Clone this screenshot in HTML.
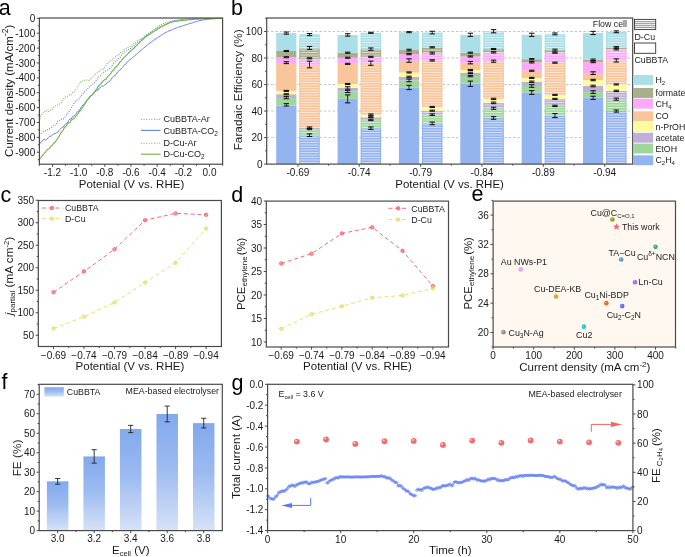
<!DOCTYPE html>
<html><head><meta charset="utf-8"><style>
html,body{margin:0;padding:0;background:#fff;width:685px;height:557px;overflow:hidden}
svg{display:block;will-change:transform}
text{font-family:"Liberation Sans", sans-serif}
</style></head><body>
<svg width="685" height="557" viewBox="0 0 685 557">
<rect x="0" y="0" width="685" height="557" fill="#fff"/>
<text x="-1.20" y="15.30" font-size="21.5" text-anchor="start" fill="#000" >a</text>
<g clip-path="url(#clipa)">
<polyline points="39.40,121.40 41.00,114.96 43.00,112.88 44.35,112.23 45.70,110.37 47.40,110.90 49.10,111.68 50.80,110.00 52.50,109.18 54.15,106.76 55.80,105.71 57.37,105.20 58.93,104.54 60.50,103.25 61.85,102.04 63.20,99.53 64.55,97.86 65.90,96.63 67.25,96.52 68.60,96.00 69.95,94.24 71.30,94.71 72.65,92.46 74.00,92.00 75.47,90.24 76.93,87.93 78.40,85.42 80.05,82.39 81.70,81.75 83.05,80.62 84.40,80.25 85.75,80.49 87.10,80.05 88.45,80.45 89.80,79.84 91.15,78.67 92.50,76.76 93.85,75.79 95.20,74.56 96.55,72.81 97.90,71.82 99.25,71.15 100.60,69.71 101.95,69.13 103.30,68.86 104.63,66.99 105.97,65.41 107.30,63.31 108.65,62.19 110.00,61.65 111.25,59.59 112.50,59.88 113.75,58.44 115.00,56.94 116.25,56.78 117.50,55.25 118.75,54.75 120.00,52.91 121.25,51.77 122.50,50.97 123.75,49.70 125.00,49.31 126.25,48.24 127.50,47.78 128.75,47.26 130.00,46.64 131.25,45.48 132.50,44.36 133.75,43.45 135.00,42.40 136.25,41.67 137.50,40.70 138.75,39.90 140.00,39.11 141.25,38.32 142.50,37.52 143.75,36.72 145.00,35.90 146.25,35.04 147.50,34.16 148.75,33.29 150.00,32.48 151.25,31.76 152.50,31.11 153.75,30.47 155.00,29.80 156.25,29.10 157.50,28.38 158.75,27.67 160.00,26.98 161.25,26.32 162.50,25.68 163.75,25.05 165.00,24.45 166.25,23.83 167.50,23.22 168.75,22.66 170.00,22.22 171.25,21.87 172.50,21.56 173.75,21.27 175.00,21.01 176.25,20.77 177.50,20.55 178.75,20.33 180.00,20.14 181.25,19.95 182.50,19.79 183.75,19.64 185.00,19.51 186.25,19.39 187.50,19.29 188.75,19.19 190.00,19.09 191.25,19.01 192.50,18.94 193.75,18.87 195.00,18.82 196.25,18.77 197.50,18.73 198.75,18.69 200.00,18.65 201.25,18.61 202.50,18.57 203.75,18.54 205.00,18.51 206.25,18.48 207.50,18.46 208.75,18.44 210.00,18.42 211.26,18.41 212.52,18.40 213.78,18.39 215.04,18.38 216.30,18.38 217.56,18.37 218.82,18.37 220.08,18.36 221.34,18.36 222.60,18.35" fill="none" stroke="#7bb854" stroke-width="1.1" stroke-dasharray="1,1.3" stroke-linejoin="round" />
<polyline points="39.40,134.01 40.60,133.58 41.80,133.54 43.00,131.92 44.22,130.98 45.44,130.95 46.66,130.07 47.88,129.82 49.10,129.02 50.67,127.85 52.23,127.23 53.80,125.41 55.15,125.17 56.50,123.93 57.85,121.10 59.20,120.50 60.56,120.17 61.92,118.89 63.28,119.01 64.64,117.46 66.00,115.66 67.33,114.01 68.67,111.85 70.00,110.19 71.25,108.09 72.50,106.47 73.75,103.76 75.00,102.49 76.34,100.64 77.68,99.99 79.02,98.90 80.36,96.76 81.70,95.13 83.06,93.77 84.42,92.20 85.78,90.52 87.14,89.00 88.50,88.22 89.84,86.40 91.18,85.32 92.52,84.53 93.86,83.27 95.20,81.60 96.54,80.29 97.88,78.28 99.22,76.53 100.56,75.95 101.90,73.93 103.26,72.58 104.62,71.38 105.98,71.04 107.34,70.06 108.70,68.89 110.00,68.19 111.25,66.95 112.50,65.02 113.75,63.27 115.00,62.02 116.25,61.21 117.50,59.59 118.75,58.01 120.00,57.48 121.25,55.43 122.50,53.85 123.75,52.73 125.00,51.60 126.25,50.90 127.50,50.45 128.75,49.40 130.00,48.94 131.25,47.72 132.50,46.61 133.75,45.77 135.00,44.71 136.25,43.56 137.50,42.61 138.75,41.66 140.00,40.63 141.25,39.62 142.50,38.62 143.75,37.63 145.00,36.65 146.25,35.69 147.50,34.77 148.75,33.86 150.00,32.93 151.25,31.96 152.50,30.98 153.75,30.01 155.00,29.06 156.25,28.12 157.50,27.18 158.75,26.29 160.00,25.49 161.25,24.79 162.50,24.18 163.75,23.62 165.00,23.11 166.25,22.63 167.50,22.18 168.75,21.80 170.00,21.47 171.25,21.20 172.50,20.94 173.75,20.69 175.00,20.46 176.25,20.25 177.50,20.05 178.75,19.86 180.00,19.69 181.25,19.53 182.50,19.39 183.75,19.26 185.00,19.15 186.25,19.05 187.50,18.96 188.75,18.87 190.00,18.80 191.25,18.73 192.50,18.67 193.75,18.63 195.00,18.59 196.25,18.56 197.50,18.54 198.75,18.52 200.00,18.50 201.26,18.48 202.51,18.47 203.77,18.46 205.02,18.44 206.28,18.43 207.53,18.43 208.79,18.42 210.04,18.41 211.30,18.40 212.56,18.40 213.81,18.39 215.07,18.39 216.32,18.38 217.58,18.38 218.83,18.37 220.09,18.36 221.34,18.36 222.60,18.35" fill="none" stroke="#6484f2" stroke-width="1.1" stroke-dasharray="1,1.3" stroke-linejoin="round" />
<polyline points="39.40,144.52 40.60,142.38 41.80,141.29 43.00,139.91 44.37,139.24 45.73,140.01 47.10,139.05 48.45,137.46 49.80,136.38 51.15,136.17 52.50,135.09 53.84,133.75 55.18,133.57 56.52,132.61 57.86,132.09 59.20,130.26 60.56,128.91 61.92,127.43 63.28,127.14 64.64,124.88 66.00,123.58 67.34,123.01 68.68,120.56 70.02,119.08 71.36,118.86 72.70,116.45 74.13,115.99 75.57,114.62 77.00,112.38 78.22,111.04 79.44,110.31 80.66,108.12 81.88,106.24 83.10,104.86 84.45,103.43 85.80,101.70 87.15,99.63 88.50,99.24 89.84,97.03 91.18,95.81 92.52,95.08 93.86,93.31 95.20,91.65 96.54,90.67 97.88,90.28 99.22,87.90 100.56,87.20 101.90,85.92 103.26,86.22 104.62,85.02 105.98,84.39 107.34,82.28 108.70,81.91 109.96,80.96 111.22,79.27 112.48,77.24 113.74,76.03 115.00,75.53 116.25,74.34 117.50,71.95 118.75,71.06 120.00,69.56 121.25,68.90 122.50,67.56 123.75,65.58 125.00,64.53 126.25,63.55 127.50,61.67 128.75,60.74 130.00,59.52 131.25,58.84 132.50,57.44 133.75,56.74 135.00,55.43 136.25,54.47 137.50,53.40 138.75,52.29 140.00,51.20 141.25,50.11 142.50,49.03 143.75,47.96 145.00,46.91 146.25,45.90 147.50,44.93 148.75,43.98 150.00,43.04 151.25,42.09 152.50,41.15 153.75,40.22 155.00,39.32 156.25,38.47 157.50,37.65 158.75,36.85 160.00,36.05 161.25,35.24 162.50,34.43 163.75,33.65 165.00,32.93 166.25,32.27 167.50,31.65 168.75,31.08 170.00,30.55 171.25,30.03 172.50,29.52 173.75,29.02 175.00,28.53 176.25,28.05 177.50,27.58 178.75,27.12 180.00,26.68 181.25,26.25 182.50,25.84 183.75,25.45 185.00,25.06 186.25,24.68 187.50,24.31 188.75,23.93 190.00,23.56 191.25,23.17 192.50,22.77 193.75,22.36 195.00,21.97 196.25,21.58 197.50,21.22 198.75,20.88 200.00,20.58 201.25,20.32 202.50,20.08 203.75,19.87 205.00,19.68 206.25,19.51 207.50,19.36 208.75,19.22 210.00,19.09 211.26,18.98 212.52,18.88 213.78,18.80 215.04,18.72 216.30,18.66 217.56,18.60 218.82,18.54 220.08,18.48 221.34,18.42 222.60,18.35" fill="none" stroke="#6282f2" stroke-width="1.0"  stroke-linejoin="round" />
<polyline points="39.40,159.21 40.66,158.03 41.92,155.92 43.18,155.01 44.44,153.04 45.70,151.79 47.05,149.88 48.40,149.09 49.75,147.84 51.10,146.12 52.45,144.97 53.80,143.25 55.15,142.02 56.50,140.10 57.84,138.28 59.18,135.99 60.52,133.46 61.86,131.95 63.20,130.02 64.56,127.22 65.92,126.76 67.28,124.31 68.64,122.93 70.00,122.41 71.25,120.18 72.50,119.28 73.75,118.82 75.00,117.52 76.33,115.54 77.67,114.32 79.00,111.73 80.35,110.53 81.70,108.74 83.06,106.76 84.42,104.52 85.78,102.62 87.14,99.96 88.50,98.25 89.84,96.47 91.18,95.53 92.52,94.28 93.86,92.61 95.20,90.70 96.54,89.45 97.88,86.70 99.22,85.47 100.56,83.78 101.90,82.27 103.26,80.81 104.62,79.84 105.98,79.34 107.34,76.89 108.70,75.55 109.96,74.42 111.22,72.74 112.48,70.87 113.74,70.09 115.00,67.53 116.25,66.78 117.50,65.56 118.75,63.88 120.00,61.91 121.25,61.13 122.50,59.19 123.75,57.62 125.00,56.73 126.25,55.50 127.50,54.15 128.75,52.77 130.00,51.51 131.25,50.40 132.50,49.20 133.75,48.24 135.00,47.01 136.25,45.78 137.50,44.49 138.75,43.34 140.00,42.13 141.25,40.94 142.50,39.77 143.75,38.64 145.00,37.54 146.25,36.53 147.50,35.63 148.75,34.80 150.00,33.97 151.25,33.16 152.50,32.39 153.75,31.63 155.00,30.84 156.25,30.02 157.50,29.17 158.75,28.34 160.00,27.57 161.25,26.88 162.50,26.25 163.75,25.65 165.00,25.04 166.25,24.39 167.50,23.73 168.75,23.12 170.00,22.66 171.25,22.33 172.50,22.03 173.75,21.76 175.00,21.52 176.25,21.31 177.50,21.11 178.75,20.92 180.00,20.73 181.25,20.56 182.50,20.40 183.75,20.26 185.00,20.14 186.25,20.02 187.50,19.91 188.75,19.80 190.00,19.69 191.25,19.58 192.50,19.47 193.75,19.37 195.00,19.28 196.25,19.18 197.50,19.10 198.75,19.02 200.00,18.95 201.25,18.88 202.50,18.82 203.75,18.77 205.00,18.72 206.25,18.68 207.50,18.64 208.75,18.61 210.00,18.57 211.26,18.54 212.52,18.51 213.78,18.49 215.04,18.47 216.30,18.45 217.56,18.43 218.82,18.41 220.08,18.39 221.34,18.37 222.60,18.35" fill="none" stroke="#72b044" stroke-width="1.1"  stroke-linejoin="round" />
</g>
<clipPath id="clipa"><rect x="39.4" y="18.0" width="183.2" height="146.2"/></clipPath>
<rect x="39.40" y="18.00" width="183.20" height="146.20" fill="none" stroke="#4a4a4a" stroke-width="1.2"/>
<line x1="39.40" y1="18.35" x2="36.80" y2="18.35" stroke="#4a4a4a" stroke-width="1.0" />
<text x="35.20" y="21.95" font-size="10" text-anchor="end" fill="#1a1a1a" >0</text>
<line x1="39.40" y1="33.23" x2="36.80" y2="33.23" stroke="#4a4a4a" stroke-width="1.0" />
<text x="35.20" y="36.83" font-size="10" text-anchor="end" fill="#1a1a1a" >-100</text>
<line x1="39.40" y1="48.10" x2="36.80" y2="48.10" stroke="#4a4a4a" stroke-width="1.0" />
<text x="35.20" y="51.70" font-size="10" text-anchor="end" fill="#1a1a1a" >-200</text>
<line x1="39.40" y1="62.98" x2="36.80" y2="62.98" stroke="#4a4a4a" stroke-width="1.0" />
<text x="35.20" y="66.58" font-size="10" text-anchor="end" fill="#1a1a1a" >-300</text>
<line x1="39.40" y1="77.85" x2="36.80" y2="77.85" stroke="#4a4a4a" stroke-width="1.0" />
<text x="35.20" y="81.45" font-size="10" text-anchor="end" fill="#1a1a1a" >-400</text>
<line x1="39.40" y1="92.72" x2="36.80" y2="92.72" stroke="#4a4a4a" stroke-width="1.0" />
<text x="35.20" y="96.32" font-size="10" text-anchor="end" fill="#1a1a1a" >-500</text>
<line x1="39.40" y1="107.60" x2="36.80" y2="107.60" stroke="#4a4a4a" stroke-width="1.0" />
<text x="35.20" y="111.20" font-size="10" text-anchor="end" fill="#1a1a1a" >-600</text>
<line x1="39.40" y1="122.47" x2="36.80" y2="122.47" stroke="#4a4a4a" stroke-width="1.0" />
<text x="35.20" y="126.07" font-size="10" text-anchor="end" fill="#1a1a1a" >-700</text>
<line x1="39.40" y1="137.35" x2="36.80" y2="137.35" stroke="#4a4a4a" stroke-width="1.0" />
<text x="35.20" y="140.95" font-size="10" text-anchor="end" fill="#1a1a1a" >-800</text>
<line x1="39.40" y1="152.22" x2="36.80" y2="152.22" stroke="#4a4a4a" stroke-width="1.0" />
<text x="35.20" y="155.82" font-size="10" text-anchor="end" fill="#1a1a1a" >-900</text>
<line x1="39.40" y1="25.79" x2="37.80" y2="25.79" stroke="#4a4a4a" stroke-width="1.0" />
<line x1="39.40" y1="40.66" x2="37.80" y2="40.66" stroke="#4a4a4a" stroke-width="1.0" />
<line x1="39.40" y1="55.54" x2="37.80" y2="55.54" stroke="#4a4a4a" stroke-width="1.0" />
<line x1="39.40" y1="70.41" x2="37.80" y2="70.41" stroke="#4a4a4a" stroke-width="1.0" />
<line x1="39.40" y1="85.29" x2="37.80" y2="85.29" stroke="#4a4a4a" stroke-width="1.0" />
<line x1="39.40" y1="100.16" x2="37.80" y2="100.16" stroke="#4a4a4a" stroke-width="1.0" />
<line x1="39.40" y1="115.04" x2="37.80" y2="115.04" stroke="#4a4a4a" stroke-width="1.0" />
<line x1="39.40" y1="129.91" x2="37.80" y2="129.91" stroke="#4a4a4a" stroke-width="1.0" />
<line x1="39.40" y1="144.79" x2="37.80" y2="144.79" stroke="#4a4a4a" stroke-width="1.0" />
<line x1="39.40" y1="159.66" x2="37.80" y2="159.66" stroke="#4a4a4a" stroke-width="1.0" />
<line x1="52.49" y1="164.20" x2="52.49" y2="166.80" stroke="#4a4a4a" stroke-width="1.0" />
<text x="52.49" y="175.70" font-size="10" text-anchor="middle" fill="#1a1a1a" >-1.2</text>
<line x1="78.66" y1="164.20" x2="78.66" y2="166.80" stroke="#4a4a4a" stroke-width="1.0" />
<text x="78.66" y="175.70" font-size="10" text-anchor="middle" fill="#1a1a1a" >-1.0</text>
<line x1="104.83" y1="164.20" x2="104.83" y2="166.80" stroke="#4a4a4a" stroke-width="1.0" />
<text x="104.83" y="175.70" font-size="10" text-anchor="middle" fill="#1a1a1a" >-0.8</text>
<line x1="131.00" y1="164.20" x2="131.00" y2="166.80" stroke="#4a4a4a" stroke-width="1.0" />
<text x="131.00" y="175.70" font-size="10" text-anchor="middle" fill="#1a1a1a" >-0.6</text>
<line x1="157.17" y1="164.20" x2="157.17" y2="166.80" stroke="#4a4a4a" stroke-width="1.0" />
<text x="157.17" y="175.70" font-size="10" text-anchor="middle" fill="#1a1a1a" >-0.4</text>
<line x1="183.34" y1="164.20" x2="183.34" y2="166.80" stroke="#4a4a4a" stroke-width="1.0" />
<text x="183.34" y="175.70" font-size="10" text-anchor="middle" fill="#1a1a1a" >-0.2</text>
<line x1="209.51" y1="164.20" x2="209.51" y2="166.80" stroke="#4a4a4a" stroke-width="1.0" />
<text x="209.51" y="175.70" font-size="10" text-anchor="middle" fill="#1a1a1a" >0.0</text>
<line x1="39.40" y1="164.20" x2="39.40" y2="165.80" stroke="#4a4a4a" stroke-width="1.0" />
<line x1="65.57" y1="164.20" x2="65.57" y2="165.80" stroke="#4a4a4a" stroke-width="1.0" />
<line x1="91.74" y1="164.20" x2="91.74" y2="165.80" stroke="#4a4a4a" stroke-width="1.0" />
<line x1="117.91" y1="164.20" x2="117.91" y2="165.80" stroke="#4a4a4a" stroke-width="1.0" />
<line x1="144.09" y1="164.20" x2="144.09" y2="165.80" stroke="#4a4a4a" stroke-width="1.0" />
<line x1="170.26" y1="164.20" x2="170.26" y2="165.80" stroke="#4a4a4a" stroke-width="1.0" />
<line x1="196.43" y1="164.20" x2="196.43" y2="165.80" stroke="#4a4a4a" stroke-width="1.0" />
<line x1="222.60" y1="164.20" x2="222.60" y2="165.80" stroke="#4a4a4a" stroke-width="1.0" />
<text x="131.50" y="187.50" font-size="11.5" text-anchor="middle" fill="#1a1a1a" >Potenial (V vs. RHE)</text>
<text x="0" y="0" font-size="11.5" text-anchor="middle" fill="#1a1a1a" transform="translate(13.2,90.8) rotate(-90)">Current density (mA/cm<tspan font-size="8.5" dy="-4.8">-2</tspan><tspan dy="4.8">)</tspan></text>
<polyline points="140.90,119.20 160.60,119.20" fill="none" stroke="#6484f2" stroke-width="1.1" stroke-dasharray="1,1.6" stroke-linejoin="round" />
<text x="163.50" y="122.40" font-size="9.0" text-anchor="start" fill="#1a1a1a" >CuBBTA-Ar</text>
<polyline points="140.90,130.40 160.60,130.40" fill="none" stroke="#6282f2" stroke-width="1.1"  stroke-linejoin="round" />
<text x="163.50" y="133.60" font-size="9.0" text-anchor="start" fill="#1a1a1a" >CuBBTA-CO<tspan font-size="6.5" dy="2">2</tspan></text>
<polyline points="140.90,143.20 160.60,143.20" fill="none" stroke="#7bb854" stroke-width="1.1" stroke-dasharray="1,1.6" stroke-linejoin="round" />
<text x="163.50" y="146.40" font-size="9.0" text-anchor="start" fill="#1a1a1a" >D-Cu-Ar</text>
<polyline points="140.90,154.20 160.60,154.20" fill="none" stroke="#72b044" stroke-width="1.1"  stroke-linejoin="round" />
<text x="163.50" y="157.40" font-size="9.0" text-anchor="start" fill="#1a1a1a" >D-Cu-CO<tspan font-size="6.5" dy="2">2</tspan></text>
<text x="231.00" y="15.30" font-size="21.5" text-anchor="start" fill="#000" >b</text>
<line x1="266.70" y1="137.58" x2="632.70" y2="137.58" stroke="#b4b4b4" stroke-width="0.8" stroke-dasharray="2.4,2"/>
<line x1="266.70" y1="111.06" x2="632.70" y2="111.06" stroke="#b4b4b4" stroke-width="0.8" stroke-dasharray="2.4,2"/>
<line x1="266.70" y1="84.54" x2="632.70" y2="84.54" stroke="#b4b4b4" stroke-width="0.8" stroke-dasharray="2.4,2"/>
<line x1="266.70" y1="58.02" x2="632.70" y2="58.02" stroke="#b4b4b4" stroke-width="0.8" stroke-dasharray="2.4,2"/>
<line x1="266.70" y1="31.50" x2="632.70" y2="31.50" stroke="#b4b4b4" stroke-width="0.8" stroke-dasharray="2.4,2"/>
<rect x="276.20" y="105.49" width="20.20" height="58.61" fill="#94b4ef" />
<rect x="276.20" y="98.07" width="20.20" height="7.43" fill="#9fd69c" />
<rect x="276.20" y="94.22" width="20.20" height="3.85" fill="#c0afd7" />
<rect x="276.20" y="90.90" width="20.20" height="3.32" fill="#fdfba0" />
<rect x="276.20" y="63.06" width="20.20" height="27.85" fill="#f9c59b" />
<rect x="276.20" y="57.22" width="20.20" height="5.83" fill="#fca9f8" />
<rect x="276.20" y="50.99" width="20.20" height="6.23" fill="#aaae8b" />
<rect x="276.20" y="32.96" width="20.20" height="18.03" fill="#abdfe7" />
<g stroke="#111" stroke-width="0.9"><line x1="286.30" y1="103.63" x2="286.30" y2="106.02"/><line x1="283.60" y1="103.63" x2="289.00" y2="103.63" stroke-width="1.05"/><line x1="283.60" y1="106.02" x2="289.00" y2="106.02" stroke-width="1.05"/></g>
<g stroke="#111" stroke-width="0.9"><line x1="286.30" y1="96.61" x2="286.30" y2="98.73"/><line x1="283.60" y1="96.61" x2="289.00" y2="96.61" stroke-width="1.05"/><line x1="283.60" y1="98.73" x2="289.00" y2="98.73" stroke-width="1.05"/></g>
<g stroke="#111" stroke-width="0.9"><line x1="286.30" y1="93.69" x2="286.30" y2="94.75"/><line x1="283.60" y1="93.69" x2="289.00" y2="93.69" stroke-width="1.05"/><line x1="283.60" y1="94.75" x2="289.00" y2="94.75" stroke-width="1.05"/></g>
<g stroke="#111" stroke-width="0.9"><line x1="286.30" y1="90.37" x2="286.30" y2="91.44"/><line x1="283.60" y1="90.37" x2="289.00" y2="90.37" stroke-width="1.05"/><line x1="283.60" y1="91.44" x2="289.00" y2="91.44" stroke-width="1.05"/></g>
<g stroke="#111" stroke-width="0.9"><line x1="286.30" y1="61.73" x2="286.30" y2="63.59"/><line x1="283.60" y1="61.73" x2="289.00" y2="61.73" stroke-width="1.05"/><line x1="283.60" y1="63.59" x2="289.00" y2="63.59" stroke-width="1.05"/></g>
<g stroke="#111" stroke-width="0.9"><line x1="286.30" y1="56.69" x2="286.30" y2="57.75"/><line x1="283.60" y1="56.69" x2="289.00" y2="56.69" stroke-width="1.05"/><line x1="283.60" y1="57.75" x2="289.00" y2="57.75" stroke-width="1.05"/></g>
<g stroke="#111" stroke-width="0.9"><line x1="286.30" y1="50.46" x2="286.30" y2="51.52"/><line x1="283.60" y1="50.46" x2="289.00" y2="50.46" stroke-width="1.05"/><line x1="283.60" y1="51.52" x2="289.00" y2="51.52" stroke-width="1.05"/></g>
<g stroke="#111" stroke-width="0.9"><line x1="286.30" y1="32.03" x2="286.30" y2="34.15"/><line x1="283.60" y1="32.03" x2="289.00" y2="32.03" stroke-width="1.05"/><line x1="283.60" y1="34.15" x2="289.00" y2="34.15" stroke-width="1.05"/></g>
<rect x="299.20" y="136.12" width="20.60" height="27.98" fill="#94b4ef" />
<rect x="299.20" y="129.09" width="20.60" height="7.03" fill="#9fd69c" />
<rect x="299.20" y="127.63" width="20.60" height="1.46" fill="#c0afd7" />
<rect x="299.20" y="127.37" width="20.60" height="0.27" fill="#fdfba0" />
<rect x="299.20" y="64.92" width="20.60" height="62.45" fill="#f9c59b" />
<rect x="299.20" y="58.82" width="20.60" height="6.10" fill="#fca9f8" />
<rect x="299.20" y="48.34" width="20.60" height="10.48" fill="#aaae8b" />
<rect x="299.20" y="34.28" width="20.60" height="14.06" fill="#abdfe7" />
<g stroke="#ffffff" stroke-width="0.9" stroke-opacity="0.6">
<line x1="300.40" y1="162.50" x2="318.60" y2="162.50"/>
<line x1="300.40" y1="160.00" x2="318.60" y2="160.00"/>
<line x1="300.40" y1="157.50" x2="318.60" y2="157.50"/>
<line x1="300.40" y1="155.00" x2="318.60" y2="155.00"/>
<line x1="300.40" y1="152.50" x2="318.60" y2="152.50"/>
<line x1="300.40" y1="150.00" x2="318.60" y2="150.00"/>
<line x1="300.40" y1="147.50" x2="318.60" y2="147.50"/>
<line x1="300.40" y1="145.00" x2="318.60" y2="145.00"/>
<line x1="300.40" y1="142.50" x2="318.60" y2="142.50"/>
<line x1="300.40" y1="140.00" x2="318.60" y2="140.00"/>
<line x1="300.40" y1="137.50" x2="318.60" y2="137.50"/>
<line x1="300.40" y1="135.00" x2="318.60" y2="135.00"/>
<line x1="300.40" y1="132.50" x2="318.60" y2="132.50"/>
<line x1="300.40" y1="130.00" x2="318.60" y2="130.00"/>
<line x1="300.40" y1="127.50" x2="318.60" y2="127.50"/>
<line x1="300.40" y1="125.00" x2="318.60" y2="125.00"/>
<line x1="300.40" y1="122.50" x2="318.60" y2="122.50"/>
<line x1="300.40" y1="120.00" x2="318.60" y2="120.00"/>
<line x1="300.40" y1="117.50" x2="318.60" y2="117.50"/>
<line x1="300.40" y1="115.00" x2="318.60" y2="115.00"/>
<line x1="300.40" y1="112.50" x2="318.60" y2="112.50"/>
<line x1="300.40" y1="110.00" x2="318.60" y2="110.00"/>
<line x1="300.40" y1="107.50" x2="318.60" y2="107.50"/>
<line x1="300.40" y1="105.00" x2="318.60" y2="105.00"/>
<line x1="300.40" y1="102.50" x2="318.60" y2="102.50"/>
<line x1="300.40" y1="100.00" x2="318.60" y2="100.00"/>
<line x1="300.40" y1="97.50" x2="318.60" y2="97.50"/>
<line x1="300.40" y1="95.00" x2="318.60" y2="95.00"/>
<line x1="300.40" y1="92.50" x2="318.60" y2="92.50"/>
<line x1="300.40" y1="90.00" x2="318.60" y2="90.00"/>
<line x1="300.40" y1="87.50" x2="318.60" y2="87.50"/>
<line x1="300.40" y1="85.00" x2="318.60" y2="85.00"/>
<line x1="300.40" y1="82.50" x2="318.60" y2="82.50"/>
<line x1="300.40" y1="80.00" x2="318.60" y2="80.00"/>
<line x1="300.40" y1="77.50" x2="318.60" y2="77.50"/>
<line x1="300.40" y1="75.00" x2="318.60" y2="75.00"/>
<line x1="300.40" y1="72.50" x2="318.60" y2="72.50"/>
<line x1="300.40" y1="70.00" x2="318.60" y2="70.00"/>
<line x1="300.40" y1="67.50" x2="318.60" y2="67.50"/>
<line x1="300.40" y1="65.00" x2="318.60" y2="65.00"/>
<line x1="300.40" y1="62.50" x2="318.60" y2="62.50"/>
<line x1="300.40" y1="60.00" x2="318.60" y2="60.00"/>
<line x1="300.40" y1="57.50" x2="318.60" y2="57.50"/>
<line x1="300.40" y1="55.00" x2="318.60" y2="55.00"/>
<line x1="300.40" y1="52.50" x2="318.60" y2="52.50"/>
<line x1="300.40" y1="50.00" x2="318.60" y2="50.00"/>
<line x1="300.40" y1="47.50" x2="318.60" y2="47.50"/>
<line x1="300.40" y1="45.00" x2="318.60" y2="45.00"/>
<line x1="300.40" y1="42.50" x2="318.60" y2="42.50"/>
<line x1="300.40" y1="40.00" x2="318.60" y2="40.00"/>
<line x1="300.40" y1="37.50" x2="318.60" y2="37.50"/>
</g>
<g stroke="#111" stroke-width="0.9"><line x1="309.50" y1="133.87" x2="309.50" y2="136.52"/><line x1="306.80" y1="133.87" x2="312.20" y2="133.87" stroke-width="1.05"/><line x1="306.80" y1="136.52" x2="312.20" y2="136.52" stroke-width="1.05"/></g>
<g stroke="#111" stroke-width="0.9"><line x1="309.50" y1="128.56" x2="309.50" y2="129.62"/><line x1="306.80" y1="128.56" x2="312.20" y2="128.56" stroke-width="1.05"/><line x1="306.80" y1="129.62" x2="312.20" y2="129.62" stroke-width="1.05"/></g>
<g stroke="#111" stroke-width="0.9"><line x1="309.50" y1="126.97" x2="309.50" y2="128.30"/><line x1="306.80" y1="126.97" x2="312.20" y2="126.97" stroke-width="1.05"/><line x1="306.80" y1="128.30" x2="312.20" y2="128.30" stroke-width="1.05"/></g>
<g stroke="#111" stroke-width="0.9"><line x1="309.50" y1="61.20" x2="309.50" y2="67.83"/><line x1="306.80" y1="61.20" x2="312.20" y2="61.20" stroke-width="1.05"/><line x1="306.80" y1="67.83" x2="312.20" y2="67.83" stroke-width="1.05"/></g>
<g stroke="#111" stroke-width="0.9"><line x1="309.50" y1="57.75" x2="309.50" y2="58.82"/><line x1="306.80" y1="57.75" x2="312.20" y2="57.75" stroke-width="1.05"/><line x1="306.80" y1="58.82" x2="312.20" y2="58.82" stroke-width="1.05"/></g>
<g stroke="#111" stroke-width="0.9"><line x1="309.50" y1="46.48" x2="309.50" y2="49.40"/><line x1="306.80" y1="46.48" x2="312.20" y2="46.48" stroke-width="1.05"/><line x1="306.80" y1="49.40" x2="312.20" y2="49.40" stroke-width="1.05"/></g>
<g stroke="#111" stroke-width="0.9"><line x1="309.50" y1="33.49" x2="309.50" y2="35.61"/><line x1="306.80" y1="33.49" x2="312.20" y2="33.49" stroke-width="1.05"/><line x1="306.80" y1="35.61" x2="312.20" y2="35.61" stroke-width="1.05"/></g>
<rect x="337.56" y="98.86" width="20.20" height="65.24" fill="#94b4ef" />
<rect x="337.56" y="91.44" width="20.20" height="7.43" fill="#9fd69c" />
<rect x="337.56" y="87.99" width="20.20" height="3.45" fill="#c0afd7" />
<rect x="337.56" y="84.01" width="20.20" height="3.98" fill="#fdfba0" />
<rect x="337.56" y="63.85" width="20.20" height="20.16" fill="#f9c59b" />
<rect x="337.56" y="57.75" width="20.20" height="6.10" fill="#fca9f8" />
<rect x="337.56" y="52.72" width="20.20" height="5.04" fill="#aaae8b" />
<rect x="337.56" y="34.95" width="20.20" height="17.77" fill="#abdfe7" />
<g stroke="#111" stroke-width="0.9"><line x1="347.66" y1="94.88" x2="347.66" y2="102.84"/><line x1="344.96" y1="94.88" x2="350.36" y2="94.88" stroke-width="1.05"/><line x1="344.96" y1="102.84" x2="350.36" y2="102.84" stroke-width="1.05"/></g>
<g stroke="#111" stroke-width="0.9"><line x1="347.66" y1="90.37" x2="347.66" y2="92.50"/><line x1="344.96" y1="90.37" x2="350.36" y2="90.37" stroke-width="1.05"/><line x1="344.96" y1="92.50" x2="350.36" y2="92.50" stroke-width="1.05"/></g>
<g stroke="#111" stroke-width="0.9"><line x1="347.66" y1="86.79" x2="347.66" y2="89.18"/><line x1="344.96" y1="86.79" x2="350.36" y2="86.79" stroke-width="1.05"/><line x1="344.96" y1="89.18" x2="350.36" y2="89.18" stroke-width="1.05"/></g>
<g stroke="#111" stroke-width="0.9"><line x1="347.66" y1="83.48" x2="347.66" y2="84.54"/><line x1="344.96" y1="83.48" x2="350.36" y2="83.48" stroke-width="1.05"/><line x1="344.96" y1="84.54" x2="350.36" y2="84.54" stroke-width="1.05"/></g>
<g stroke="#111" stroke-width="0.9"><line x1="347.66" y1="63.32" x2="347.66" y2="64.38"/><line x1="344.96" y1="63.32" x2="350.36" y2="63.32" stroke-width="1.05"/><line x1="344.96" y1="64.38" x2="350.36" y2="64.38" stroke-width="1.05"/></g>
<g stroke="#111" stroke-width="0.9"><line x1="347.66" y1="57.22" x2="347.66" y2="58.29"/><line x1="344.96" y1="57.22" x2="350.36" y2="57.22" stroke-width="1.05"/><line x1="344.96" y1="58.29" x2="350.36" y2="58.29" stroke-width="1.05"/></g>
<g stroke="#111" stroke-width="0.9"><line x1="347.66" y1="52.19" x2="347.66" y2="53.25"/><line x1="344.96" y1="52.19" x2="350.36" y2="52.19" stroke-width="1.05"/><line x1="344.96" y1="53.25" x2="350.36" y2="53.25" stroke-width="1.05"/></g>
<g stroke="#111" stroke-width="0.9"><line x1="347.66" y1="33.75" x2="347.66" y2="36.14"/><line x1="344.96" y1="33.75" x2="350.36" y2="33.75" stroke-width="1.05"/><line x1="344.96" y1="36.14" x2="350.36" y2="36.14" stroke-width="1.05"/></g>
<rect x="360.56" y="128.17" width="20.60" height="35.93" fill="#94b4ef" />
<rect x="360.56" y="119.94" width="20.60" height="8.22" fill="#9fd69c" />
<rect x="360.56" y="116.89" width="20.60" height="3.05" fill="#c0afd7" />
<rect x="360.56" y="114.64" width="20.60" height="2.25" fill="#fdfba0" />
<rect x="360.56" y="63.19" width="20.60" height="51.45" fill="#f9c59b" />
<rect x="360.56" y="56.83" width="20.60" height="6.36" fill="#fca9f8" />
<rect x="360.56" y="49.14" width="20.60" height="7.69" fill="#aaae8b" />
<rect x="360.56" y="32.83" width="20.60" height="16.31" fill="#abdfe7" />
<g stroke="#ffffff" stroke-width="0.9" stroke-opacity="0.6">
<line x1="361.76" y1="162.50" x2="379.96" y2="162.50"/>
<line x1="361.76" y1="160.00" x2="379.96" y2="160.00"/>
<line x1="361.76" y1="157.50" x2="379.96" y2="157.50"/>
<line x1="361.76" y1="155.00" x2="379.96" y2="155.00"/>
<line x1="361.76" y1="152.50" x2="379.96" y2="152.50"/>
<line x1="361.76" y1="150.00" x2="379.96" y2="150.00"/>
<line x1="361.76" y1="147.50" x2="379.96" y2="147.50"/>
<line x1="361.76" y1="145.00" x2="379.96" y2="145.00"/>
<line x1="361.76" y1="142.50" x2="379.96" y2="142.50"/>
<line x1="361.76" y1="140.00" x2="379.96" y2="140.00"/>
<line x1="361.76" y1="137.50" x2="379.96" y2="137.50"/>
<line x1="361.76" y1="135.00" x2="379.96" y2="135.00"/>
<line x1="361.76" y1="132.50" x2="379.96" y2="132.50"/>
<line x1="361.76" y1="130.00" x2="379.96" y2="130.00"/>
<line x1="361.76" y1="127.50" x2="379.96" y2="127.50"/>
<line x1="361.76" y1="125.00" x2="379.96" y2="125.00"/>
<line x1="361.76" y1="122.50" x2="379.96" y2="122.50"/>
<line x1="361.76" y1="120.00" x2="379.96" y2="120.00"/>
<line x1="361.76" y1="117.50" x2="379.96" y2="117.50"/>
<line x1="361.76" y1="115.00" x2="379.96" y2="115.00"/>
<line x1="361.76" y1="112.50" x2="379.96" y2="112.50"/>
<line x1="361.76" y1="110.00" x2="379.96" y2="110.00"/>
<line x1="361.76" y1="107.50" x2="379.96" y2="107.50"/>
<line x1="361.76" y1="105.00" x2="379.96" y2="105.00"/>
<line x1="361.76" y1="102.50" x2="379.96" y2="102.50"/>
<line x1="361.76" y1="100.00" x2="379.96" y2="100.00"/>
<line x1="361.76" y1="97.50" x2="379.96" y2="97.50"/>
<line x1="361.76" y1="95.00" x2="379.96" y2="95.00"/>
<line x1="361.76" y1="92.50" x2="379.96" y2="92.50"/>
<line x1="361.76" y1="90.00" x2="379.96" y2="90.00"/>
<line x1="361.76" y1="87.50" x2="379.96" y2="87.50"/>
<line x1="361.76" y1="85.00" x2="379.96" y2="85.00"/>
<line x1="361.76" y1="82.50" x2="379.96" y2="82.50"/>
<line x1="361.76" y1="80.00" x2="379.96" y2="80.00"/>
<line x1="361.76" y1="77.50" x2="379.96" y2="77.50"/>
<line x1="361.76" y1="75.00" x2="379.96" y2="75.00"/>
<line x1="361.76" y1="72.50" x2="379.96" y2="72.50"/>
<line x1="361.76" y1="70.00" x2="379.96" y2="70.00"/>
<line x1="361.76" y1="67.50" x2="379.96" y2="67.50"/>
<line x1="361.76" y1="65.00" x2="379.96" y2="65.00"/>
<line x1="361.76" y1="62.50" x2="379.96" y2="62.50"/>
<line x1="361.76" y1="60.00" x2="379.96" y2="60.00"/>
<line x1="361.76" y1="57.50" x2="379.96" y2="57.50"/>
<line x1="361.76" y1="55.00" x2="379.96" y2="55.00"/>
<line x1="361.76" y1="52.50" x2="379.96" y2="52.50"/>
<line x1="361.76" y1="50.00" x2="379.96" y2="50.00"/>
<line x1="361.76" y1="47.50" x2="379.96" y2="47.50"/>
<line x1="361.76" y1="45.00" x2="379.96" y2="45.00"/>
<line x1="361.76" y1="42.50" x2="379.96" y2="42.50"/>
<line x1="361.76" y1="40.00" x2="379.96" y2="40.00"/>
<line x1="361.76" y1="37.50" x2="379.96" y2="37.50"/>
<line x1="361.76" y1="35.00" x2="379.96" y2="35.00"/>
</g>
<g stroke="#111" stroke-width="0.9"><line x1="370.86" y1="126.97" x2="370.86" y2="129.36"/><line x1="368.16" y1="126.97" x2="373.56" y2="126.97" stroke-width="1.05"/><line x1="368.16" y1="129.36" x2="373.56" y2="129.36" stroke-width="1.05"/></g>
<g stroke="#111" stroke-width="0.9"><line x1="370.86" y1="119.28" x2="370.86" y2="120.61"/><line x1="368.16" y1="119.28" x2="373.56" y2="119.28" stroke-width="1.05"/><line x1="368.16" y1="120.61" x2="373.56" y2="120.61" stroke-width="1.05"/></g>
<g stroke="#111" stroke-width="0.9"><line x1="370.86" y1="116.23" x2="370.86" y2="117.56"/><line x1="368.16" y1="116.23" x2="373.56" y2="116.23" stroke-width="1.05"/><line x1="368.16" y1="117.56" x2="373.56" y2="117.56" stroke-width="1.05"/></g>
<g stroke="#111" stroke-width="0.9"><line x1="370.86" y1="113.98" x2="370.86" y2="115.30"/><line x1="368.16" y1="113.98" x2="373.56" y2="113.98" stroke-width="1.05"/><line x1="368.16" y1="115.30" x2="373.56" y2="115.30" stroke-width="1.05"/></g>
<g stroke="#111" stroke-width="0.9"><line x1="370.86" y1="61.07" x2="370.86" y2="65.31"/><line x1="368.16" y1="61.07" x2="373.56" y2="61.07" stroke-width="1.05"/><line x1="368.16" y1="65.31" x2="373.56" y2="65.31" stroke-width="1.05"/></g>
<g stroke="#111" stroke-width="0.9"><line x1="370.86" y1="56.30" x2="370.86" y2="57.36"/><line x1="368.16" y1="56.30" x2="373.56" y2="56.30" stroke-width="1.05"/><line x1="368.16" y1="57.36" x2="373.56" y2="57.36" stroke-width="1.05"/></g>
<g stroke="#111" stroke-width="0.9"><line x1="370.86" y1="47.94" x2="370.86" y2="50.33"/><line x1="368.16" y1="47.94" x2="373.56" y2="47.94" stroke-width="1.05"/><line x1="368.16" y1="50.33" x2="373.56" y2="50.33" stroke-width="1.05"/></g>
<g stroke="#111" stroke-width="0.9"><line x1="370.86" y1="32.30" x2="370.86" y2="33.36"/><line x1="368.16" y1="32.30" x2="373.56" y2="32.30" stroke-width="1.05"/><line x1="368.16" y1="33.36" x2="373.56" y2="33.36" stroke-width="1.05"/></g>
<rect x="398.92" y="87.46" width="20.20" height="76.64" fill="#94b4ef" />
<rect x="398.92" y="80.43" width="20.20" height="7.03" fill="#9fd69c" />
<rect x="398.92" y="76.98" width="20.20" height="3.45" fill="#c0afd7" />
<rect x="398.92" y="72.47" width="20.20" height="4.51" fill="#fdfba0" />
<rect x="398.92" y="60.80" width="20.20" height="11.67" fill="#f9c59b" />
<rect x="398.92" y="54.04" width="20.20" height="6.76" fill="#fca9f8" />
<rect x="398.92" y="50.06" width="20.20" height="3.98" fill="#aaae8b" />
<rect x="398.92" y="32.16" width="20.20" height="17.90" fill="#abdfe7" />
<g stroke="#111" stroke-width="0.9"><line x1="409.02" y1="85.34" x2="409.02" y2="89.58"/><line x1="406.32" y1="85.34" x2="411.72" y2="85.34" stroke-width="1.05"/><line x1="406.32" y1="89.58" x2="411.72" y2="89.58" stroke-width="1.05"/></g>
<g stroke="#111" stroke-width="0.9"><line x1="409.02" y1="79.10" x2="409.02" y2="81.76"/><line x1="406.32" y1="79.10" x2="411.72" y2="79.10" stroke-width="1.05"/><line x1="406.32" y1="81.76" x2="411.72" y2="81.76" stroke-width="1.05"/></g>
<g stroke="#111" stroke-width="0.9"><line x1="409.02" y1="76.19" x2="409.02" y2="77.78"/><line x1="406.32" y1="76.19" x2="411.72" y2="76.19" stroke-width="1.05"/><line x1="406.32" y1="77.78" x2="411.72" y2="77.78" stroke-width="1.05"/></g>
<g stroke="#111" stroke-width="0.9"><line x1="409.02" y1="71.94" x2="409.02" y2="73.00"/><line x1="406.32" y1="71.94" x2="411.72" y2="71.94" stroke-width="1.05"/><line x1="406.32" y1="73.00" x2="411.72" y2="73.00" stroke-width="1.05"/></g>
<g stroke="#111" stroke-width="0.9"><line x1="409.02" y1="58.82" x2="409.02" y2="62.26"/><line x1="406.32" y1="58.82" x2="411.72" y2="58.82" stroke-width="1.05"/><line x1="406.32" y1="62.26" x2="411.72" y2="62.26" stroke-width="1.05"/></g>
<g stroke="#111" stroke-width="0.9"><line x1="409.02" y1="53.38" x2="409.02" y2="54.70"/><line x1="406.32" y1="53.38" x2="411.72" y2="53.38" stroke-width="1.05"/><line x1="406.32" y1="54.70" x2="411.72" y2="54.70" stroke-width="1.05"/></g>
<g stroke="#111" stroke-width="0.9"><line x1="409.02" y1="49.27" x2="409.02" y2="50.86"/><line x1="406.32" y1="49.27" x2="411.72" y2="49.27" stroke-width="1.05"/><line x1="406.32" y1="50.86" x2="411.72" y2="50.86" stroke-width="1.05"/></g>
<g stroke="#111" stroke-width="0.9"><line x1="409.02" y1="31.63" x2="409.02" y2="32.69"/><line x1="406.32" y1="31.63" x2="411.72" y2="31.63" stroke-width="1.05"/><line x1="406.32" y1="32.69" x2="411.72" y2="32.69" stroke-width="1.05"/></g>
<rect x="421.92" y="123.39" width="20.60" height="40.71" fill="#94b4ef" />
<rect x="421.92" y="114.64" width="20.60" height="8.75" fill="#9fd69c" />
<rect x="421.92" y="110.66" width="20.60" height="3.98" fill="#c0afd7" />
<rect x="421.92" y="106.95" width="20.60" height="3.71" fill="#fdfba0" />
<rect x="421.92" y="60.41" width="20.60" height="46.54" fill="#f9c59b" />
<rect x="421.92" y="53.11" width="20.60" height="7.29" fill="#fca9f8" />
<rect x="421.92" y="47.28" width="20.60" height="5.83" fill="#aaae8b" />
<rect x="421.92" y="32.56" width="20.60" height="14.72" fill="#abdfe7" />
<g stroke="#ffffff" stroke-width="0.9" stroke-opacity="0.6">
<line x1="423.12" y1="162.50" x2="441.32" y2="162.50"/>
<line x1="423.12" y1="160.00" x2="441.32" y2="160.00"/>
<line x1="423.12" y1="157.50" x2="441.32" y2="157.50"/>
<line x1="423.12" y1="155.00" x2="441.32" y2="155.00"/>
<line x1="423.12" y1="152.50" x2="441.32" y2="152.50"/>
<line x1="423.12" y1="150.00" x2="441.32" y2="150.00"/>
<line x1="423.12" y1="147.50" x2="441.32" y2="147.50"/>
<line x1="423.12" y1="145.00" x2="441.32" y2="145.00"/>
<line x1="423.12" y1="142.50" x2="441.32" y2="142.50"/>
<line x1="423.12" y1="140.00" x2="441.32" y2="140.00"/>
<line x1="423.12" y1="137.50" x2="441.32" y2="137.50"/>
<line x1="423.12" y1="135.00" x2="441.32" y2="135.00"/>
<line x1="423.12" y1="132.50" x2="441.32" y2="132.50"/>
<line x1="423.12" y1="130.00" x2="441.32" y2="130.00"/>
<line x1="423.12" y1="127.50" x2="441.32" y2="127.50"/>
<line x1="423.12" y1="125.00" x2="441.32" y2="125.00"/>
<line x1="423.12" y1="122.50" x2="441.32" y2="122.50"/>
<line x1="423.12" y1="120.00" x2="441.32" y2="120.00"/>
<line x1="423.12" y1="117.50" x2="441.32" y2="117.50"/>
<line x1="423.12" y1="115.00" x2="441.32" y2="115.00"/>
<line x1="423.12" y1="112.50" x2="441.32" y2="112.50"/>
<line x1="423.12" y1="110.00" x2="441.32" y2="110.00"/>
<line x1="423.12" y1="107.50" x2="441.32" y2="107.50"/>
<line x1="423.12" y1="105.00" x2="441.32" y2="105.00"/>
<line x1="423.12" y1="102.50" x2="441.32" y2="102.50"/>
<line x1="423.12" y1="100.00" x2="441.32" y2="100.00"/>
<line x1="423.12" y1="97.50" x2="441.32" y2="97.50"/>
<line x1="423.12" y1="95.00" x2="441.32" y2="95.00"/>
<line x1="423.12" y1="92.50" x2="441.32" y2="92.50"/>
<line x1="423.12" y1="90.00" x2="441.32" y2="90.00"/>
<line x1="423.12" y1="87.50" x2="441.32" y2="87.50"/>
<line x1="423.12" y1="85.00" x2="441.32" y2="85.00"/>
<line x1="423.12" y1="82.50" x2="441.32" y2="82.50"/>
<line x1="423.12" y1="80.00" x2="441.32" y2="80.00"/>
<line x1="423.12" y1="77.50" x2="441.32" y2="77.50"/>
<line x1="423.12" y1="75.00" x2="441.32" y2="75.00"/>
<line x1="423.12" y1="72.50" x2="441.32" y2="72.50"/>
<line x1="423.12" y1="70.00" x2="441.32" y2="70.00"/>
<line x1="423.12" y1="67.50" x2="441.32" y2="67.50"/>
<line x1="423.12" y1="65.00" x2="441.32" y2="65.00"/>
<line x1="423.12" y1="62.50" x2="441.32" y2="62.50"/>
<line x1="423.12" y1="60.00" x2="441.32" y2="60.00"/>
<line x1="423.12" y1="57.50" x2="441.32" y2="57.50"/>
<line x1="423.12" y1="55.00" x2="441.32" y2="55.00"/>
<line x1="423.12" y1="52.50" x2="441.32" y2="52.50"/>
<line x1="423.12" y1="50.00" x2="441.32" y2="50.00"/>
<line x1="423.12" y1="47.50" x2="441.32" y2="47.50"/>
<line x1="423.12" y1="45.00" x2="441.32" y2="45.00"/>
<line x1="423.12" y1="42.50" x2="441.32" y2="42.50"/>
<line x1="423.12" y1="40.00" x2="441.32" y2="40.00"/>
<line x1="423.12" y1="37.50" x2="441.32" y2="37.50"/>
<line x1="423.12" y1="35.00" x2="441.32" y2="35.00"/>
</g>
<g stroke="#111" stroke-width="0.9"><line x1="432.22" y1="122.07" x2="432.22" y2="124.72"/><line x1="429.52" y1="122.07" x2="434.92" y2="122.07" stroke-width="1.05"/><line x1="429.52" y1="124.72" x2="434.92" y2="124.72" stroke-width="1.05"/></g>
<g stroke="#111" stroke-width="0.9"><line x1="432.22" y1="113.84" x2="432.22" y2="115.44"/><line x1="429.52" y1="113.84" x2="434.92" y2="113.84" stroke-width="1.05"/><line x1="429.52" y1="115.44" x2="434.92" y2="115.44" stroke-width="1.05"/></g>
<g stroke="#111" stroke-width="0.9"><line x1="432.22" y1="110.13" x2="432.22" y2="111.19"/><line x1="429.52" y1="110.13" x2="434.92" y2="110.13" stroke-width="1.05"/><line x1="429.52" y1="111.19" x2="434.92" y2="111.19" stroke-width="1.05"/></g>
<g stroke="#111" stroke-width="0.9"><line x1="432.22" y1="106.42" x2="432.22" y2="107.48"/><line x1="429.52" y1="106.42" x2="434.92" y2="106.42" stroke-width="1.05"/><line x1="429.52" y1="107.48" x2="434.92" y2="107.48" stroke-width="1.05"/></g>
<g stroke="#111" stroke-width="0.9"><line x1="432.22" y1="59.74" x2="432.22" y2="61.07"/><line x1="429.52" y1="59.74" x2="434.92" y2="59.74" stroke-width="1.05"/><line x1="429.52" y1="61.07" x2="434.92" y2="61.07" stroke-width="1.05"/></g>
<g stroke="#111" stroke-width="0.9"><line x1="432.22" y1="52.19" x2="432.22" y2="54.04"/><line x1="429.52" y1="52.19" x2="434.92" y2="52.19" stroke-width="1.05"/><line x1="429.52" y1="54.04" x2="434.92" y2="54.04" stroke-width="1.05"/></g>
<g stroke="#111" stroke-width="0.9"><line x1="432.22" y1="46.75" x2="432.22" y2="47.81"/><line x1="429.52" y1="46.75" x2="434.92" y2="46.75" stroke-width="1.05"/><line x1="429.52" y1="47.81" x2="434.92" y2="47.81" stroke-width="1.05"/></g>
<g stroke="#111" stroke-width="0.9"><line x1="432.22" y1="31.23" x2="432.22" y2="33.89"/><line x1="429.52" y1="31.23" x2="434.92" y2="31.23" stroke-width="1.05"/><line x1="429.52" y1="33.89" x2="434.92" y2="33.89" stroke-width="1.05"/></g>
<rect x="460.28" y="83.74" width="20.20" height="80.36" fill="#94b4ef" />
<rect x="460.28" y="76.05" width="20.20" height="7.69" fill="#9fd69c" />
<rect x="460.28" y="72.87" width="20.20" height="3.18" fill="#c0afd7" />
<rect x="460.28" y="69.95" width="20.20" height="2.92" fill="#fdfba0" />
<rect x="460.28" y="62.66" width="20.20" height="7.29" fill="#f9c59b" />
<rect x="460.28" y="56.43" width="20.20" height="6.23" fill="#fca9f8" />
<rect x="460.28" y="52.72" width="20.20" height="3.71" fill="#aaae8b" />
<rect x="460.28" y="34.81" width="20.20" height="17.90" fill="#abdfe7" />
<g stroke="#111" stroke-width="0.9"><line x1="470.38" y1="81.09" x2="470.38" y2="86.40"/><line x1="467.68" y1="81.09" x2="473.08" y2="81.09" stroke-width="1.05"/><line x1="467.68" y1="86.40" x2="473.08" y2="86.40" stroke-width="1.05"/></g>
<g stroke="#111" stroke-width="0.9"><line x1="470.38" y1="75.39" x2="470.38" y2="76.72"/><line x1="467.68" y1="75.39" x2="473.08" y2="75.39" stroke-width="1.05"/><line x1="467.68" y1="76.72" x2="473.08" y2="76.72" stroke-width="1.05"/></g>
<g stroke="#111" stroke-width="0.9"><line x1="470.38" y1="72.21" x2="470.38" y2="73.53"/><line x1="467.68" y1="72.21" x2="473.08" y2="72.21" stroke-width="1.05"/><line x1="467.68" y1="73.53" x2="473.08" y2="73.53" stroke-width="1.05"/></g>
<g stroke="#111" stroke-width="0.9"><line x1="470.38" y1="69.42" x2="470.38" y2="70.48"/><line x1="467.68" y1="69.42" x2="473.08" y2="69.42" stroke-width="1.05"/><line x1="467.68" y1="70.48" x2="473.08" y2="70.48" stroke-width="1.05"/></g>
<g stroke="#111" stroke-width="0.9"><line x1="470.38" y1="61.47" x2="470.38" y2="63.85"/><line x1="467.68" y1="61.47" x2="473.08" y2="61.47" stroke-width="1.05"/><line x1="467.68" y1="63.85" x2="473.08" y2="63.85" stroke-width="1.05"/></g>
<g stroke="#111" stroke-width="0.9"><line x1="470.38" y1="55.90" x2="470.38" y2="56.96"/><line x1="467.68" y1="55.90" x2="473.08" y2="55.90" stroke-width="1.05"/><line x1="467.68" y1="56.96" x2="473.08" y2="56.96" stroke-width="1.05"/></g>
<g stroke="#111" stroke-width="0.9"><line x1="470.38" y1="52.19" x2="470.38" y2="53.25"/><line x1="467.68" y1="52.19" x2="473.08" y2="52.19" stroke-width="1.05"/><line x1="467.68" y1="53.25" x2="473.08" y2="53.25" stroke-width="1.05"/></g>
<g stroke="#111" stroke-width="0.9"><line x1="470.38" y1="33.22" x2="470.38" y2="36.41"/><line x1="467.68" y1="33.22" x2="473.08" y2="33.22" stroke-width="1.05"/><line x1="467.68" y1="36.41" x2="473.08" y2="36.41" stroke-width="1.05"/></g>
<rect x="483.28" y="117.96" width="20.60" height="46.14" fill="#94b4ef" />
<rect x="483.28" y="108.28" width="20.60" height="9.68" fill="#9fd69c" />
<rect x="483.28" y="102.84" width="20.60" height="5.44" fill="#c0afd7" />
<rect x="483.28" y="98.86" width="20.60" height="3.98" fill="#fdfba0" />
<rect x="483.28" y="61.20" width="20.60" height="37.66" fill="#f9c59b" />
<rect x="483.28" y="52.32" width="20.60" height="8.88" fill="#fca9f8" />
<rect x="483.28" y="49.00" width="20.60" height="3.31" fill="#aaae8b" />
<rect x="483.28" y="31.23" width="20.60" height="17.77" fill="#abdfe7" />
<g stroke="#ffffff" stroke-width="0.9" stroke-opacity="0.6">
<line x1="484.48" y1="162.50" x2="502.68" y2="162.50"/>
<line x1="484.48" y1="160.00" x2="502.68" y2="160.00"/>
<line x1="484.48" y1="157.50" x2="502.68" y2="157.50"/>
<line x1="484.48" y1="155.00" x2="502.68" y2="155.00"/>
<line x1="484.48" y1="152.50" x2="502.68" y2="152.50"/>
<line x1="484.48" y1="150.00" x2="502.68" y2="150.00"/>
<line x1="484.48" y1="147.50" x2="502.68" y2="147.50"/>
<line x1="484.48" y1="145.00" x2="502.68" y2="145.00"/>
<line x1="484.48" y1="142.50" x2="502.68" y2="142.50"/>
<line x1="484.48" y1="140.00" x2="502.68" y2="140.00"/>
<line x1="484.48" y1="137.50" x2="502.68" y2="137.50"/>
<line x1="484.48" y1="135.00" x2="502.68" y2="135.00"/>
<line x1="484.48" y1="132.50" x2="502.68" y2="132.50"/>
<line x1="484.48" y1="130.00" x2="502.68" y2="130.00"/>
<line x1="484.48" y1="127.50" x2="502.68" y2="127.50"/>
<line x1="484.48" y1="125.00" x2="502.68" y2="125.00"/>
<line x1="484.48" y1="122.50" x2="502.68" y2="122.50"/>
<line x1="484.48" y1="120.00" x2="502.68" y2="120.00"/>
<line x1="484.48" y1="117.50" x2="502.68" y2="117.50"/>
<line x1="484.48" y1="115.00" x2="502.68" y2="115.00"/>
<line x1="484.48" y1="112.50" x2="502.68" y2="112.50"/>
<line x1="484.48" y1="110.00" x2="502.68" y2="110.00"/>
<line x1="484.48" y1="107.50" x2="502.68" y2="107.50"/>
<line x1="484.48" y1="105.00" x2="502.68" y2="105.00"/>
<line x1="484.48" y1="102.50" x2="502.68" y2="102.50"/>
<line x1="484.48" y1="100.00" x2="502.68" y2="100.00"/>
<line x1="484.48" y1="97.50" x2="502.68" y2="97.50"/>
<line x1="484.48" y1="95.00" x2="502.68" y2="95.00"/>
<line x1="484.48" y1="92.50" x2="502.68" y2="92.50"/>
<line x1="484.48" y1="90.00" x2="502.68" y2="90.00"/>
<line x1="484.48" y1="87.50" x2="502.68" y2="87.50"/>
<line x1="484.48" y1="85.00" x2="502.68" y2="85.00"/>
<line x1="484.48" y1="82.50" x2="502.68" y2="82.50"/>
<line x1="484.48" y1="80.00" x2="502.68" y2="80.00"/>
<line x1="484.48" y1="77.50" x2="502.68" y2="77.50"/>
<line x1="484.48" y1="75.00" x2="502.68" y2="75.00"/>
<line x1="484.48" y1="72.50" x2="502.68" y2="72.50"/>
<line x1="484.48" y1="70.00" x2="502.68" y2="70.00"/>
<line x1="484.48" y1="67.50" x2="502.68" y2="67.50"/>
<line x1="484.48" y1="65.00" x2="502.68" y2="65.00"/>
<line x1="484.48" y1="62.50" x2="502.68" y2="62.50"/>
<line x1="484.48" y1="60.00" x2="502.68" y2="60.00"/>
<line x1="484.48" y1="57.50" x2="502.68" y2="57.50"/>
<line x1="484.48" y1="55.00" x2="502.68" y2="55.00"/>
<line x1="484.48" y1="52.50" x2="502.68" y2="52.50"/>
<line x1="484.48" y1="50.00" x2="502.68" y2="50.00"/>
<line x1="484.48" y1="47.50" x2="502.68" y2="47.50"/>
<line x1="484.48" y1="45.00" x2="502.68" y2="45.00"/>
<line x1="484.48" y1="42.50" x2="502.68" y2="42.50"/>
<line x1="484.48" y1="40.00" x2="502.68" y2="40.00"/>
<line x1="484.48" y1="37.50" x2="502.68" y2="37.50"/>
<line x1="484.48" y1="35.00" x2="502.68" y2="35.00"/>
<line x1="484.48" y1="32.50" x2="502.68" y2="32.50"/>
</g>
<g stroke="#111" stroke-width="0.9"><line x1="493.58" y1="116.63" x2="493.58" y2="119.28"/><line x1="490.88" y1="116.63" x2="496.28" y2="116.63" stroke-width="1.05"/><line x1="490.88" y1="119.28" x2="496.28" y2="119.28" stroke-width="1.05"/></g>
<g stroke="#111" stroke-width="0.9"><line x1="493.58" y1="107.21" x2="493.58" y2="109.34"/><line x1="490.88" y1="107.21" x2="496.28" y2="107.21" stroke-width="1.05"/><line x1="490.88" y1="109.34" x2="496.28" y2="109.34" stroke-width="1.05"/></g>
<g stroke="#111" stroke-width="0.9"><line x1="493.58" y1="102.04" x2="493.58" y2="103.63"/><line x1="490.88" y1="102.04" x2="496.28" y2="102.04" stroke-width="1.05"/><line x1="490.88" y1="103.63" x2="496.28" y2="103.63" stroke-width="1.05"/></g>
<g stroke="#111" stroke-width="0.9"><line x1="493.58" y1="98.20" x2="493.58" y2="99.52"/><line x1="490.88" y1="98.20" x2="496.28" y2="98.20" stroke-width="1.05"/><line x1="490.88" y1="99.52" x2="496.28" y2="99.52" stroke-width="1.05"/></g>
<g stroke="#111" stroke-width="0.9"><line x1="493.58" y1="60.14" x2="493.58" y2="62.26"/><line x1="490.88" y1="60.14" x2="496.28" y2="60.14" stroke-width="1.05"/><line x1="490.88" y1="62.26" x2="496.28" y2="62.26" stroke-width="1.05"/></g>
<g stroke="#111" stroke-width="0.9"><line x1="493.58" y1="51.66" x2="493.58" y2="52.98"/><line x1="490.88" y1="51.66" x2="496.28" y2="51.66" stroke-width="1.05"/><line x1="490.88" y1="52.98" x2="496.28" y2="52.98" stroke-width="1.05"/></g>
<g stroke="#111" stroke-width="0.9"><line x1="493.58" y1="48.47" x2="493.58" y2="49.53"/><line x1="490.88" y1="48.47" x2="496.28" y2="48.47" stroke-width="1.05"/><line x1="490.88" y1="49.53" x2="496.28" y2="49.53" stroke-width="1.05"/></g>
<g stroke="#111" stroke-width="0.9"><line x1="493.58" y1="29.64" x2="493.58" y2="32.83"/><line x1="490.88" y1="29.64" x2="496.28" y2="29.64" stroke-width="1.05"/><line x1="490.88" y1="32.83" x2="496.28" y2="32.83" stroke-width="1.05"/></g>
<rect x="521.64" y="92.50" width="20.20" height="71.60" fill="#94b4ef" />
<rect x="521.64" y="86.00" width="20.20" height="6.50" fill="#9fd69c" />
<rect x="521.64" y="81.76" width="20.20" height="4.24" fill="#c0afd7" />
<rect x="521.64" y="77.91" width="20.20" height="3.85" fill="#fdfba0" />
<rect x="521.64" y="70.75" width="20.20" height="7.16" fill="#f9c59b" />
<rect x="521.64" y="62.26" width="20.20" height="8.49" fill="#fca9f8" />
<rect x="521.64" y="59.21" width="20.20" height="3.05" fill="#aaae8b" />
<rect x="521.64" y="34.81" width="20.20" height="24.40" fill="#abdfe7" />
<g stroke="#111" stroke-width="0.9"><line x1="531.74" y1="90.64" x2="531.74" y2="94.35"/><line x1="529.04" y1="90.64" x2="534.44" y2="90.64" stroke-width="1.05"/><line x1="529.04" y1="94.35" x2="534.44" y2="94.35" stroke-width="1.05"/></g>
<g stroke="#111" stroke-width="0.9"><line x1="531.74" y1="84.67" x2="531.74" y2="87.32"/><line x1="529.04" y1="84.67" x2="534.44" y2="84.67" stroke-width="1.05"/><line x1="529.04" y1="87.32" x2="534.44" y2="87.32" stroke-width="1.05"/></g>
<g stroke="#111" stroke-width="0.9"><line x1="531.74" y1="81.09" x2="531.74" y2="82.42"/><line x1="529.04" y1="81.09" x2="534.44" y2="81.09" stroke-width="1.05"/><line x1="529.04" y1="82.42" x2="534.44" y2="82.42" stroke-width="1.05"/></g>
<g stroke="#111" stroke-width="0.9"><line x1="531.74" y1="77.38" x2="531.74" y2="78.44"/><line x1="529.04" y1="77.38" x2="534.44" y2="77.38" stroke-width="1.05"/><line x1="529.04" y1="78.44" x2="534.44" y2="78.44" stroke-width="1.05"/></g>
<g stroke="#111" stroke-width="0.9"><line x1="531.74" y1="70.22" x2="531.74" y2="71.28"/><line x1="529.04" y1="70.22" x2="534.44" y2="70.22" stroke-width="1.05"/><line x1="529.04" y1="71.28" x2="534.44" y2="71.28" stroke-width="1.05"/></g>
<g stroke="#111" stroke-width="0.9"><line x1="531.74" y1="61.60" x2="531.74" y2="62.93"/><line x1="529.04" y1="61.60" x2="534.44" y2="61.60" stroke-width="1.05"/><line x1="529.04" y1="62.93" x2="534.44" y2="62.93" stroke-width="1.05"/></g>
<g stroke="#111" stroke-width="0.9"><line x1="531.74" y1="58.55" x2="531.74" y2="59.88"/><line x1="529.04" y1="58.55" x2="534.44" y2="58.55" stroke-width="1.05"/><line x1="529.04" y1="59.88" x2="534.44" y2="59.88" stroke-width="1.05"/></g>
<g stroke="#111" stroke-width="0.9"><line x1="531.74" y1="33.22" x2="531.74" y2="36.41"/><line x1="529.04" y1="33.22" x2="534.44" y2="33.22" stroke-width="1.05"/><line x1="529.04" y1="36.41" x2="534.44" y2="36.41" stroke-width="1.05"/></g>
<rect x="544.64" y="115.57" width="20.60" height="48.53" fill="#94b4ef" />
<rect x="544.64" y="105.89" width="20.60" height="9.68" fill="#9fd69c" />
<rect x="544.64" y="98.86" width="20.60" height="7.03" fill="#c0afd7" />
<rect x="544.64" y="94.88" width="20.60" height="3.98" fill="#fdfba0" />
<rect x="544.64" y="62.66" width="20.60" height="32.22" fill="#f9c59b" />
<rect x="544.64" y="52.72" width="20.60" height="9.94" fill="#fca9f8" />
<rect x="544.64" y="50.06" width="20.60" height="2.65" fill="#aaae8b" />
<rect x="544.64" y="33.89" width="20.60" height="16.18" fill="#abdfe7" />
<g stroke="#ffffff" stroke-width="0.9" stroke-opacity="0.6">
<line x1="545.84" y1="162.50" x2="564.04" y2="162.50"/>
<line x1="545.84" y1="160.00" x2="564.04" y2="160.00"/>
<line x1="545.84" y1="157.50" x2="564.04" y2="157.50"/>
<line x1="545.84" y1="155.00" x2="564.04" y2="155.00"/>
<line x1="545.84" y1="152.50" x2="564.04" y2="152.50"/>
<line x1="545.84" y1="150.00" x2="564.04" y2="150.00"/>
<line x1="545.84" y1="147.50" x2="564.04" y2="147.50"/>
<line x1="545.84" y1="145.00" x2="564.04" y2="145.00"/>
<line x1="545.84" y1="142.50" x2="564.04" y2="142.50"/>
<line x1="545.84" y1="140.00" x2="564.04" y2="140.00"/>
<line x1="545.84" y1="137.50" x2="564.04" y2="137.50"/>
<line x1="545.84" y1="135.00" x2="564.04" y2="135.00"/>
<line x1="545.84" y1="132.50" x2="564.04" y2="132.50"/>
<line x1="545.84" y1="130.00" x2="564.04" y2="130.00"/>
<line x1="545.84" y1="127.50" x2="564.04" y2="127.50"/>
<line x1="545.84" y1="125.00" x2="564.04" y2="125.00"/>
<line x1="545.84" y1="122.50" x2="564.04" y2="122.50"/>
<line x1="545.84" y1="120.00" x2="564.04" y2="120.00"/>
<line x1="545.84" y1="117.50" x2="564.04" y2="117.50"/>
<line x1="545.84" y1="115.00" x2="564.04" y2="115.00"/>
<line x1="545.84" y1="112.50" x2="564.04" y2="112.50"/>
<line x1="545.84" y1="110.00" x2="564.04" y2="110.00"/>
<line x1="545.84" y1="107.50" x2="564.04" y2="107.50"/>
<line x1="545.84" y1="105.00" x2="564.04" y2="105.00"/>
<line x1="545.84" y1="102.50" x2="564.04" y2="102.50"/>
<line x1="545.84" y1="100.00" x2="564.04" y2="100.00"/>
<line x1="545.84" y1="97.50" x2="564.04" y2="97.50"/>
<line x1="545.84" y1="95.00" x2="564.04" y2="95.00"/>
<line x1="545.84" y1="92.50" x2="564.04" y2="92.50"/>
<line x1="545.84" y1="90.00" x2="564.04" y2="90.00"/>
<line x1="545.84" y1="87.50" x2="564.04" y2="87.50"/>
<line x1="545.84" y1="85.00" x2="564.04" y2="85.00"/>
<line x1="545.84" y1="82.50" x2="564.04" y2="82.50"/>
<line x1="545.84" y1="80.00" x2="564.04" y2="80.00"/>
<line x1="545.84" y1="77.50" x2="564.04" y2="77.50"/>
<line x1="545.84" y1="75.00" x2="564.04" y2="75.00"/>
<line x1="545.84" y1="72.50" x2="564.04" y2="72.50"/>
<line x1="545.84" y1="70.00" x2="564.04" y2="70.00"/>
<line x1="545.84" y1="67.50" x2="564.04" y2="67.50"/>
<line x1="545.84" y1="65.00" x2="564.04" y2="65.00"/>
<line x1="545.84" y1="62.50" x2="564.04" y2="62.50"/>
<line x1="545.84" y1="60.00" x2="564.04" y2="60.00"/>
<line x1="545.84" y1="57.50" x2="564.04" y2="57.50"/>
<line x1="545.84" y1="55.00" x2="564.04" y2="55.00"/>
<line x1="545.84" y1="52.50" x2="564.04" y2="52.50"/>
<line x1="545.84" y1="50.00" x2="564.04" y2="50.00"/>
<line x1="545.84" y1="47.50" x2="564.04" y2="47.50"/>
<line x1="545.84" y1="45.00" x2="564.04" y2="45.00"/>
<line x1="545.84" y1="42.50" x2="564.04" y2="42.50"/>
<line x1="545.84" y1="40.00" x2="564.04" y2="40.00"/>
<line x1="545.84" y1="37.50" x2="564.04" y2="37.50"/>
<line x1="545.84" y1="35.00" x2="564.04" y2="35.00"/>
</g>
<g stroke="#111" stroke-width="0.9"><line x1="554.94" y1="113.58" x2="554.94" y2="117.56"/><line x1="552.24" y1="113.58" x2="557.64" y2="113.58" stroke-width="1.05"/><line x1="552.24" y1="117.56" x2="557.64" y2="117.56" stroke-width="1.05"/></g>
<g stroke="#111" stroke-width="0.9"><line x1="554.94" y1="105.23" x2="554.94" y2="106.55"/><line x1="552.24" y1="105.23" x2="557.64" y2="105.23" stroke-width="1.05"/><line x1="552.24" y1="106.55" x2="557.64" y2="106.55" stroke-width="1.05"/></g>
<g stroke="#111" stroke-width="0.9"><line x1="554.94" y1="98.33" x2="554.94" y2="99.39"/><line x1="552.24" y1="98.33" x2="557.64" y2="98.33" stroke-width="1.05"/><line x1="552.24" y1="99.39" x2="557.64" y2="99.39" stroke-width="1.05"/></g>
<g stroke="#111" stroke-width="0.9"><line x1="554.94" y1="94.35" x2="554.94" y2="95.41"/><line x1="552.24" y1="94.35" x2="557.64" y2="94.35" stroke-width="1.05"/><line x1="552.24" y1="95.41" x2="557.64" y2="95.41" stroke-width="1.05"/></g>
<g stroke="#111" stroke-width="0.9"><line x1="554.94" y1="62.13" x2="554.94" y2="63.19"/><line x1="552.24" y1="62.13" x2="557.64" y2="62.13" stroke-width="1.05"/><line x1="552.24" y1="63.19" x2="557.64" y2="63.19" stroke-width="1.05"/></g>
<g stroke="#111" stroke-width="0.9"><line x1="554.94" y1="52.19" x2="554.94" y2="53.25"/><line x1="552.24" y1="52.19" x2="557.64" y2="52.19" stroke-width="1.05"/><line x1="552.24" y1="53.25" x2="557.64" y2="53.25" stroke-width="1.05"/></g>
<g stroke="#111" stroke-width="0.9"><line x1="554.94" y1="49.14" x2="554.94" y2="50.99"/><line x1="552.24" y1="49.14" x2="557.64" y2="49.14" stroke-width="1.05"/><line x1="552.24" y1="50.99" x2="557.64" y2="50.99" stroke-width="1.05"/></g>
<g stroke="#111" stroke-width="0.9"><line x1="554.94" y1="32.96" x2="554.94" y2="34.81"/><line x1="552.24" y1="32.96" x2="557.64" y2="32.96" stroke-width="1.05"/><line x1="552.24" y1="34.81" x2="557.64" y2="34.81" stroke-width="1.05"/></g>
<rect x="583.00" y="97.80" width="20.20" height="66.30" fill="#94b4ef" />
<rect x="583.00" y="92.10" width="20.20" height="5.70" fill="#9fd69c" />
<rect x="583.00" y="86.00" width="20.20" height="6.10" fill="#c0afd7" />
<rect x="583.00" y="80.03" width="20.20" height="5.97" fill="#fdfba0" />
<rect x="583.00" y="73.14" width="20.20" height="6.90" fill="#f9c59b" />
<rect x="583.00" y="61.87" width="20.20" height="11.27" fill="#fca9f8" />
<rect x="583.00" y="59.88" width="20.20" height="1.99" fill="#aaae8b" />
<rect x="583.00" y="32.96" width="20.20" height="26.92" fill="#abdfe7" />
<g stroke="#111" stroke-width="0.9"><line x1="593.10" y1="96.21" x2="593.10" y2="99.39"/><line x1="590.40" y1="96.21" x2="595.80" y2="96.21" stroke-width="1.05"/><line x1="590.40" y1="99.39" x2="595.80" y2="99.39" stroke-width="1.05"/></g>
<g stroke="#111" stroke-width="0.9"><line x1="593.10" y1="90.77" x2="593.10" y2="93.42"/><line x1="590.40" y1="90.77" x2="595.80" y2="90.77" stroke-width="1.05"/><line x1="590.40" y1="93.42" x2="595.80" y2="93.42" stroke-width="1.05"/></g>
<g stroke="#111" stroke-width="0.9"><line x1="593.10" y1="85.20" x2="593.10" y2="86.79"/><line x1="590.40" y1="85.20" x2="595.80" y2="85.20" stroke-width="1.05"/><line x1="590.40" y1="86.79" x2="595.80" y2="86.79" stroke-width="1.05"/></g>
<g stroke="#111" stroke-width="0.9"><line x1="593.10" y1="79.37" x2="593.10" y2="80.69"/><line x1="590.40" y1="79.37" x2="595.80" y2="79.37" stroke-width="1.05"/><line x1="590.40" y1="80.69" x2="595.80" y2="80.69" stroke-width="1.05"/></g>
<g stroke="#111" stroke-width="0.9"><line x1="593.10" y1="71.81" x2="593.10" y2="74.46"/><line x1="590.40" y1="71.81" x2="595.80" y2="71.81" stroke-width="1.05"/><line x1="590.40" y1="74.46" x2="595.80" y2="74.46" stroke-width="1.05"/></g>
<g stroke="#111" stroke-width="0.9"><line x1="593.10" y1="61.07" x2="593.10" y2="62.66"/><line x1="590.40" y1="61.07" x2="595.80" y2="61.07" stroke-width="1.05"/><line x1="590.40" y1="62.66" x2="595.80" y2="62.66" stroke-width="1.05"/></g>
<g stroke="#111" stroke-width="0.9"><line x1="593.10" y1="59.08" x2="593.10" y2="60.67"/><line x1="590.40" y1="59.08" x2="595.80" y2="59.08" stroke-width="1.05"/><line x1="590.40" y1="60.67" x2="595.80" y2="60.67" stroke-width="1.05"/></g>
<g stroke="#111" stroke-width="0.9"><line x1="593.10" y1="31.37" x2="593.10" y2="34.55"/><line x1="590.40" y1="31.37" x2="595.80" y2="31.37" stroke-width="1.05"/><line x1="590.40" y1="34.55" x2="595.80" y2="34.55" stroke-width="1.05"/></g>
<rect x="606.00" y="111.06" width="20.60" height="53.04" fill="#94b4ef" />
<rect x="606.00" y="99.13" width="20.60" height="11.93" fill="#9fd69c" />
<rect x="606.00" y="90.90" width="20.60" height="8.22" fill="#c0afd7" />
<rect x="606.00" y="84.41" width="20.60" height="6.50" fill="#fdfba0" />
<rect x="606.00" y="60.41" width="20.60" height="24.00" fill="#f9c59b" />
<rect x="606.00" y="49.14" width="20.60" height="11.27" fill="#fca9f8" />
<rect x="606.00" y="47.28" width="20.60" height="1.86" fill="#aaae8b" />
<rect x="606.00" y="31.77" width="20.60" height="15.51" fill="#abdfe7" />
<g stroke="#ffffff" stroke-width="0.9" stroke-opacity="0.6">
<line x1="607.20" y1="162.50" x2="625.40" y2="162.50"/>
<line x1="607.20" y1="160.00" x2="625.40" y2="160.00"/>
<line x1="607.20" y1="157.50" x2="625.40" y2="157.50"/>
<line x1="607.20" y1="155.00" x2="625.40" y2="155.00"/>
<line x1="607.20" y1="152.50" x2="625.40" y2="152.50"/>
<line x1="607.20" y1="150.00" x2="625.40" y2="150.00"/>
<line x1="607.20" y1="147.50" x2="625.40" y2="147.50"/>
<line x1="607.20" y1="145.00" x2="625.40" y2="145.00"/>
<line x1="607.20" y1="142.50" x2="625.40" y2="142.50"/>
<line x1="607.20" y1="140.00" x2="625.40" y2="140.00"/>
<line x1="607.20" y1="137.50" x2="625.40" y2="137.50"/>
<line x1="607.20" y1="135.00" x2="625.40" y2="135.00"/>
<line x1="607.20" y1="132.50" x2="625.40" y2="132.50"/>
<line x1="607.20" y1="130.00" x2="625.40" y2="130.00"/>
<line x1="607.20" y1="127.50" x2="625.40" y2="127.50"/>
<line x1="607.20" y1="125.00" x2="625.40" y2="125.00"/>
<line x1="607.20" y1="122.50" x2="625.40" y2="122.50"/>
<line x1="607.20" y1="120.00" x2="625.40" y2="120.00"/>
<line x1="607.20" y1="117.50" x2="625.40" y2="117.50"/>
<line x1="607.20" y1="115.00" x2="625.40" y2="115.00"/>
<line x1="607.20" y1="112.50" x2="625.40" y2="112.50"/>
<line x1="607.20" y1="110.00" x2="625.40" y2="110.00"/>
<line x1="607.20" y1="107.50" x2="625.40" y2="107.50"/>
<line x1="607.20" y1="105.00" x2="625.40" y2="105.00"/>
<line x1="607.20" y1="102.50" x2="625.40" y2="102.50"/>
<line x1="607.20" y1="100.00" x2="625.40" y2="100.00"/>
<line x1="607.20" y1="97.50" x2="625.40" y2="97.50"/>
<line x1="607.20" y1="95.00" x2="625.40" y2="95.00"/>
<line x1="607.20" y1="92.50" x2="625.40" y2="92.50"/>
<line x1="607.20" y1="90.00" x2="625.40" y2="90.00"/>
<line x1="607.20" y1="87.50" x2="625.40" y2="87.50"/>
<line x1="607.20" y1="85.00" x2="625.40" y2="85.00"/>
<line x1="607.20" y1="82.50" x2="625.40" y2="82.50"/>
<line x1="607.20" y1="80.00" x2="625.40" y2="80.00"/>
<line x1="607.20" y1="77.50" x2="625.40" y2="77.50"/>
<line x1="607.20" y1="75.00" x2="625.40" y2="75.00"/>
<line x1="607.20" y1="72.50" x2="625.40" y2="72.50"/>
<line x1="607.20" y1="70.00" x2="625.40" y2="70.00"/>
<line x1="607.20" y1="67.50" x2="625.40" y2="67.50"/>
<line x1="607.20" y1="65.00" x2="625.40" y2="65.00"/>
<line x1="607.20" y1="62.50" x2="625.40" y2="62.50"/>
<line x1="607.20" y1="60.00" x2="625.40" y2="60.00"/>
<line x1="607.20" y1="57.50" x2="625.40" y2="57.50"/>
<line x1="607.20" y1="55.00" x2="625.40" y2="55.00"/>
<line x1="607.20" y1="52.50" x2="625.40" y2="52.50"/>
<line x1="607.20" y1="50.00" x2="625.40" y2="50.00"/>
<line x1="607.20" y1="47.50" x2="625.40" y2="47.50"/>
<line x1="607.20" y1="45.00" x2="625.40" y2="45.00"/>
<line x1="607.20" y1="42.50" x2="625.40" y2="42.50"/>
<line x1="607.20" y1="40.00" x2="625.40" y2="40.00"/>
<line x1="607.20" y1="37.50" x2="625.40" y2="37.50"/>
<line x1="607.20" y1="35.00" x2="625.40" y2="35.00"/>
</g>
<g stroke="#111" stroke-width="0.9"><line x1="616.30" y1="110.00" x2="616.30" y2="112.12"/><line x1="613.60" y1="110.00" x2="619.00" y2="110.00" stroke-width="1.05"/><line x1="613.60" y1="112.12" x2="619.00" y2="112.12" stroke-width="1.05"/></g>
<g stroke="#111" stroke-width="0.9"><line x1="616.30" y1="98.07" x2="616.30" y2="100.19"/><line x1="613.60" y1="98.07" x2="619.00" y2="98.07" stroke-width="1.05"/><line x1="613.60" y1="100.19" x2="619.00" y2="100.19" stroke-width="1.05"/></g>
<g stroke="#111" stroke-width="0.9"><line x1="616.30" y1="90.24" x2="616.30" y2="91.57"/><line x1="613.60" y1="90.24" x2="619.00" y2="90.24" stroke-width="1.05"/><line x1="613.60" y1="91.57" x2="619.00" y2="91.57" stroke-width="1.05"/></g>
<g stroke="#111" stroke-width="0.9"><line x1="616.30" y1="83.88" x2="616.30" y2="84.94"/><line x1="613.60" y1="83.88" x2="619.00" y2="83.88" stroke-width="1.05"/><line x1="613.60" y1="84.94" x2="619.00" y2="84.94" stroke-width="1.05"/></g>
<g stroke="#111" stroke-width="0.9"><line x1="616.30" y1="58.82" x2="616.30" y2="62.00"/><line x1="613.60" y1="58.82" x2="619.00" y2="58.82" stroke-width="1.05"/><line x1="613.60" y1="62.00" x2="619.00" y2="62.00" stroke-width="1.05"/></g>
<g stroke="#111" stroke-width="0.9"><line x1="616.30" y1="48.34" x2="616.30" y2="49.93"/><line x1="613.60" y1="48.34" x2="619.00" y2="48.34" stroke-width="1.05"/><line x1="613.60" y1="49.93" x2="619.00" y2="49.93" stroke-width="1.05"/></g>
<g stroke="#111" stroke-width="0.9"><line x1="616.30" y1="46.62" x2="616.30" y2="47.94"/><line x1="613.60" y1="46.62" x2="619.00" y2="46.62" stroke-width="1.05"/><line x1="613.60" y1="47.94" x2="619.00" y2="47.94" stroke-width="1.05"/></g>
<g stroke="#111" stroke-width="0.9"><line x1="616.30" y1="30.84" x2="616.30" y2="32.69"/><line x1="613.60" y1="30.84" x2="619.00" y2="30.84" stroke-width="1.05"/><line x1="613.60" y1="32.69" x2="619.00" y2="32.69" stroke-width="1.05"/></g>
<rect x="266.70" y="18.00" width="366.00" height="146.10" fill="none" stroke="#4a4a4a" stroke-width="1.2"/>
<line x1="266.70" y1="164.10" x2="264.10" y2="164.10" stroke="#4a4a4a" stroke-width="1.0" />
<text x="262.50" y="167.70" font-size="10" text-anchor="end" fill="#1a1a1a" >0</text>
<line x1="266.70" y1="137.58" x2="264.10" y2="137.58" stroke="#4a4a4a" stroke-width="1.0" />
<text x="262.50" y="141.18" font-size="10" text-anchor="end" fill="#1a1a1a" >20</text>
<line x1="266.70" y1="111.06" x2="264.10" y2="111.06" stroke="#4a4a4a" stroke-width="1.0" />
<text x="262.50" y="114.66" font-size="10" text-anchor="end" fill="#1a1a1a" >40</text>
<line x1="266.70" y1="84.54" x2="264.10" y2="84.54" stroke="#4a4a4a" stroke-width="1.0" />
<text x="262.50" y="88.14" font-size="10" text-anchor="end" fill="#1a1a1a" >60</text>
<line x1="266.70" y1="58.02" x2="264.10" y2="58.02" stroke="#4a4a4a" stroke-width="1.0" />
<text x="262.50" y="61.62" font-size="10" text-anchor="end" fill="#1a1a1a" >80</text>
<line x1="266.70" y1="31.50" x2="264.10" y2="31.50" stroke="#4a4a4a" stroke-width="1.0" />
<text x="262.50" y="35.10" font-size="10" text-anchor="end" fill="#1a1a1a" >100</text>
<line x1="266.70" y1="150.84" x2="265.10" y2="150.84" stroke="#4a4a4a" stroke-width="1.0" />
<line x1="266.70" y1="124.32" x2="265.10" y2="124.32" stroke="#4a4a4a" stroke-width="1.0" />
<line x1="266.70" y1="97.80" x2="265.10" y2="97.80" stroke="#4a4a4a" stroke-width="1.0" />
<line x1="266.70" y1="71.28" x2="265.10" y2="71.28" stroke="#4a4a4a" stroke-width="1.0" />
<line x1="266.70" y1="44.76" x2="265.10" y2="44.76" stroke="#4a4a4a" stroke-width="1.0" />
<line x1="266.70" y1="18.24" x2="265.10" y2="18.24" stroke="#4a4a4a" stroke-width="1.0" />
<line x1="297.90" y1="164.10" x2="297.90" y2="166.70" stroke="#4a4a4a" stroke-width="1.0" />
<text x="297.90" y="176.30" font-size="10" text-anchor="middle" fill="#1a1a1a" >-0.69</text>
<line x1="328.58" y1="164.10" x2="328.58" y2="165.70" stroke="#4a4a4a" stroke-width="1.0" />
<line x1="359.26" y1="164.10" x2="359.26" y2="166.70" stroke="#4a4a4a" stroke-width="1.0" />
<text x="359.26" y="176.30" font-size="10" text-anchor="middle" fill="#1a1a1a" >-0.74</text>
<line x1="389.94" y1="164.10" x2="389.94" y2="165.70" stroke="#4a4a4a" stroke-width="1.0" />
<line x1="420.62" y1="164.10" x2="420.62" y2="166.70" stroke="#4a4a4a" stroke-width="1.0" />
<text x="420.62" y="176.30" font-size="10" text-anchor="middle" fill="#1a1a1a" >-0.79</text>
<line x1="451.30" y1="164.10" x2="451.30" y2="165.70" stroke="#4a4a4a" stroke-width="1.0" />
<line x1="481.98" y1="164.10" x2="481.98" y2="166.70" stroke="#4a4a4a" stroke-width="1.0" />
<text x="481.98" y="176.30" font-size="10" text-anchor="middle" fill="#1a1a1a" >-0.84</text>
<line x1="512.66" y1="164.10" x2="512.66" y2="165.70" stroke="#4a4a4a" stroke-width="1.0" />
<line x1="543.34" y1="164.10" x2="543.34" y2="166.70" stroke="#4a4a4a" stroke-width="1.0" />
<text x="543.34" y="176.30" font-size="10" text-anchor="middle" fill="#1a1a1a" >-0.89</text>
<line x1="574.02" y1="164.10" x2="574.02" y2="165.70" stroke="#4a4a4a" stroke-width="1.0" />
<line x1="604.70" y1="164.10" x2="604.70" y2="166.70" stroke="#4a4a4a" stroke-width="1.0" />
<text x="604.70" y="176.30" font-size="10" text-anchor="middle" fill="#1a1a1a" >-0.94</text>
<text x="449.60" y="187.50" font-size="11.5" text-anchor="middle" fill="#1a1a1a" >Potential (V vs. RHE)</text>
<text x="0" y="0" font-size="11.8" text-anchor="middle" fill="#1a1a1a" transform="translate(241.80,89.80) rotate(-90)">Faradaic Efficiency (%)</text>
<text x="627.00" y="26.60" font-size="8.8" text-anchor="end" fill="#1a1a1a" >Flow cell</text>
<rect x="634.50" y="19.40" width="21.20" height="10.20" fill="none" stroke="#333" stroke-width="0.9"/>
<line x1="635.00" y1="21.70" x2="655.20" y2="21.70" stroke="#444" stroke-width="0.6" />
<line x1="635.00" y1="23.70" x2="655.20" y2="23.70" stroke="#444" stroke-width="0.6" />
<line x1="635.00" y1="25.70" x2="655.20" y2="25.70" stroke="#444" stroke-width="0.6" />
<line x1="635.00" y1="27.60" x2="655.20" y2="27.60" stroke="#444" stroke-width="0.6" />
<text x="634.50" y="39.50" font-size="8.8" text-anchor="start" fill="#1a1a1a" >D-Cu</text>
<rect x="634.50" y="43.00" width="21.20" height="10.30" fill="none" stroke="#333" stroke-width="0.9"/>
<text x="634.50" y="62.90" font-size="8.8" text-anchor="start" fill="#1a1a1a" >CuBBTA</text>
<rect x="633.10" y="75.00" width="20.10" height="9.90" fill="#abdfe7" />
<text x="655.50" y="83.00" font-size="8.8" text-anchor="start" fill="#1a1a1a" >H<tspan font-size="6" dy="2">2</tspan></text>
<rect x="633.10" y="88.00" width="20.10" height="9.90" fill="#aaae8b" />
<text x="655.50" y="96.00" font-size="8.8" text-anchor="start" fill="#1a1a1a" >formate</text>
<rect x="633.10" y="98.70" width="20.10" height="9.90" fill="#fca9f8" />
<text x="655.50" y="106.70" font-size="8.8" text-anchor="start" fill="#1a1a1a" >CH<tspan font-size="6" dy="2">4</tspan></text>
<rect x="633.10" y="111.30" width="20.10" height="9.90" fill="#f9c59b" />
<text x="655.50" y="119.30" font-size="8.8" text-anchor="start" fill="#1a1a1a" >CO</text>
<rect x="633.10" y="122.00" width="20.10" height="9.90" fill="#fdfba0" />
<text x="655.50" y="130.00" font-size="8.8" text-anchor="start" fill="#1a1a1a" >n-PrOH</text>
<rect x="633.10" y="132.80" width="20.10" height="9.90" fill="#c0afd7" />
<text x="655.50" y="140.80" font-size="8.8" text-anchor="start" fill="#1a1a1a" >acetate</text>
<rect x="633.10" y="143.60" width="20.10" height="9.90" fill="#9fd69c" />
<text x="655.50" y="151.60" font-size="8.8" text-anchor="start" fill="#1a1a1a" >EtOH</text>
<rect x="633.10" y="155.30" width="20.10" height="9.90" fill="#94b4ef" />
<text x="655.50" y="163.30" font-size="8.8" text-anchor="start" fill="#1a1a1a" >C<tspan font-size="6" dy="2">2</tspan><tspan dy="-2">H</tspan><tspan font-size="6" dy="2">4</tspan></text>
<text x="0.50" y="202.20" font-size="21.5" text-anchor="start" fill="#000" >c</text>
<polyline points="53.50,292.27 84.02,271.35 114.54,249.30 145.06,220.19 175.58,213.39 206.10,214.78" fill="none" stroke="#f45a6a" stroke-width="0.9" stroke-dasharray="4,2.8" stroke-linejoin="round" />
<polyline points="53.50,328.50 84.02,316.80 114.54,302.40 145.06,282.60 175.58,262.80 206.10,228.60" fill="none" stroke="#e6dc58" stroke-width="0.9" stroke-dasharray="4,2.8" stroke-linejoin="round" />
<circle cx="53.50" cy="292.27" r="1.75" fill="#f45a6a" fill-opacity="0.55" stroke="#f45a6a" stroke-width="0.8"/>
<circle cx="84.02" cy="271.35" r="1.75" fill="#f45a6a" fill-opacity="0.55" stroke="#f45a6a" stroke-width="0.8"/>
<circle cx="114.54" cy="249.30" r="1.75" fill="#f45a6a" fill-opacity="0.55" stroke="#f45a6a" stroke-width="0.8"/>
<circle cx="145.06" cy="220.19" r="1.75" fill="#f45a6a" fill-opacity="0.55" stroke="#f45a6a" stroke-width="0.8"/>
<circle cx="175.58" cy="213.39" r="1.75" fill="#f45a6a" fill-opacity="0.55" stroke="#f45a6a" stroke-width="0.8"/>
<circle cx="206.10" cy="214.78" r="1.75" fill="#f45a6a" fill-opacity="0.55" stroke="#f45a6a" stroke-width="0.8"/>
<circle cx="53.50" cy="328.50" r="1.75" fill="#e6dc58" fill-opacity="0.55" stroke="#e6dc58" stroke-width="0.8"/>
<circle cx="84.02" cy="316.80" r="1.75" fill="#e6dc58" fill-opacity="0.55" stroke="#e6dc58" stroke-width="0.8"/>
<circle cx="114.54" cy="302.40" r="1.75" fill="#e6dc58" fill-opacity="0.55" stroke="#e6dc58" stroke-width="0.8"/>
<circle cx="145.06" cy="282.60" r="1.75" fill="#e6dc58" fill-opacity="0.55" stroke="#e6dc58" stroke-width="0.8"/>
<circle cx="175.58" cy="262.80" r="1.75" fill="#e6dc58" fill-opacity="0.55" stroke="#e6dc58" stroke-width="0.8"/>
<circle cx="206.10" cy="228.60" r="1.75" fill="#e6dc58" fill-opacity="0.55" stroke="#e6dc58" stroke-width="0.8"/>
<rect x="38.30" y="200.50" width="183.10" height="146.00" fill="none" stroke="#4a4a4a" stroke-width="1.2"/>
<line x1="38.30" y1="335.25" x2="35.70" y2="335.25" stroke="#4a4a4a" stroke-width="1.0" />
<text x="34.10" y="338.85" font-size="10" text-anchor="end" fill="#1a1a1a" >50</text>
<line x1="38.30" y1="312.75" x2="35.70" y2="312.75" stroke="#4a4a4a" stroke-width="1.0" />
<text x="34.10" y="316.35" font-size="10" text-anchor="end" fill="#1a1a1a" >100</text>
<line x1="38.30" y1="290.25" x2="35.70" y2="290.25" stroke="#4a4a4a" stroke-width="1.0" />
<text x="34.10" y="293.85" font-size="10" text-anchor="end" fill="#1a1a1a" >150</text>
<line x1="38.30" y1="267.75" x2="35.70" y2="267.75" stroke="#4a4a4a" stroke-width="1.0" />
<text x="34.10" y="271.35" font-size="10" text-anchor="end" fill="#1a1a1a" >200</text>
<line x1="38.30" y1="245.25" x2="35.70" y2="245.25" stroke="#4a4a4a" stroke-width="1.0" />
<text x="34.10" y="248.85" font-size="10" text-anchor="end" fill="#1a1a1a" >250</text>
<line x1="38.30" y1="222.75" x2="35.70" y2="222.75" stroke="#4a4a4a" stroke-width="1.0" />
<text x="34.10" y="226.35" font-size="10" text-anchor="end" fill="#1a1a1a" >300</text>
<line x1="38.30" y1="200.25" x2="35.70" y2="200.25" stroke="#4a4a4a" stroke-width="1.0" />
<text x="34.10" y="203.85" font-size="10" text-anchor="end" fill="#1a1a1a" >350</text>
<line x1="38.30" y1="324.00" x2="36.70" y2="324.00" stroke="#4a4a4a" stroke-width="1.0" />
<line x1="38.30" y1="301.50" x2="36.70" y2="301.50" stroke="#4a4a4a" stroke-width="1.0" />
<line x1="38.30" y1="279.00" x2="36.70" y2="279.00" stroke="#4a4a4a" stroke-width="1.0" />
<line x1="38.30" y1="256.50" x2="36.70" y2="256.50" stroke="#4a4a4a" stroke-width="1.0" />
<line x1="38.30" y1="234.00" x2="36.70" y2="234.00" stroke="#4a4a4a" stroke-width="1.0" />
<line x1="38.30" y1="211.50" x2="36.70" y2="211.50" stroke="#4a4a4a" stroke-width="1.0" />
<line x1="53.50" y1="346.50" x2="53.50" y2="349.10" stroke="#4a4a4a" stroke-width="1.0" />
<text x="53.50" y="358.50" font-size="10" text-anchor="middle" fill="#1a1a1a" >−0.69</text>
<line x1="68.76" y1="346.50" x2="68.76" y2="348.10" stroke="#4a4a4a" stroke-width="1.0" />
<line x1="84.02" y1="346.50" x2="84.02" y2="349.10" stroke="#4a4a4a" stroke-width="1.0" />
<text x="84.02" y="358.50" font-size="10" text-anchor="middle" fill="#1a1a1a" >−0.74</text>
<line x1="99.28" y1="346.50" x2="99.28" y2="348.10" stroke="#4a4a4a" stroke-width="1.0" />
<line x1="114.54" y1="346.50" x2="114.54" y2="349.10" stroke="#4a4a4a" stroke-width="1.0" />
<text x="114.54" y="358.50" font-size="10" text-anchor="middle" fill="#1a1a1a" >−0.79</text>
<line x1="129.80" y1="346.50" x2="129.80" y2="348.10" stroke="#4a4a4a" stroke-width="1.0" />
<line x1="145.06" y1="346.50" x2="145.06" y2="349.10" stroke="#4a4a4a" stroke-width="1.0" />
<text x="145.06" y="358.50" font-size="10" text-anchor="middle" fill="#1a1a1a" >−0.84</text>
<line x1="160.32" y1="346.50" x2="160.32" y2="348.10" stroke="#4a4a4a" stroke-width="1.0" />
<line x1="175.58" y1="346.50" x2="175.58" y2="349.10" stroke="#4a4a4a" stroke-width="1.0" />
<text x="175.58" y="358.50" font-size="10" text-anchor="middle" fill="#1a1a1a" >−0.89</text>
<line x1="190.84" y1="346.50" x2="190.84" y2="348.10" stroke="#4a4a4a" stroke-width="1.0" />
<line x1="206.10" y1="346.50" x2="206.10" y2="349.10" stroke="#4a4a4a" stroke-width="1.0" />
<text x="206.10" y="358.50" font-size="10" text-anchor="middle" fill="#1a1a1a" >−0.94</text>
<text x="129.90" y="369.80" font-size="11.5" text-anchor="middle" fill="#1a1a1a" >Potential (V vs. RHE)</text>
<text x="0" y="0" font-size="11.8" text-anchor="middle" fill="#1a1a1a" transform="translate(13.4,276.0) rotate(-90)"><tspan font-style="italic">j</tspan><tspan font-size="8" dy="2">partial</tspan><tspan dy="-2"> (mA cm</tspan><tspan font-size="7.5" dy="-4">-2</tspan><tspan dy="4">)</tspan></text>
<polyline points="41.90,208.00 62.90,208.00" fill="none" stroke="#f45a6a" stroke-width="0.9" stroke-dasharray="4,2.8" stroke-linejoin="round" />
<circle cx="52.00" cy="208.00" r="1.75" fill="#f45a6a" fill-opacity="0.55" stroke="#f45a6a" stroke-width="0.8"/>
<text x="65.00" y="211.00" font-size="8.8" text-anchor="start" fill="#1a1a1a" >CuBBTA</text>
<polyline points="41.90,218.70 62.90,218.70" fill="none" stroke="#e6dc58" stroke-width="0.9" stroke-dasharray="4,2.8" stroke-linejoin="round" />
<circle cx="52.00" cy="218.70" r="1.75" fill="#e6dc58" fill-opacity="0.55" stroke="#e6dc58" stroke-width="0.8"/>
<text x="65.00" y="221.70" font-size="8.8" text-anchor="start" fill="#1a1a1a" >D-Cu</text>
<text x="231.30" y="201.70" font-size="21.5" text-anchor="start" fill="#000" >d</text>
<polyline points="281.20,263.51 311.54,253.64 341.88,233.43 372.22,227.32 402.56,250.82 432.90,286.07" fill="none" stroke="#f45a6a" stroke-width="0.9" stroke-dasharray="4,2.8" stroke-linejoin="round" />
<polyline points="281.20,328.84 311.54,314.27 341.88,306.28 372.22,297.82 402.56,295.47 432.90,288.42" fill="none" stroke="#e6dc58" stroke-width="0.9" stroke-dasharray="4,2.8" stroke-linejoin="round" />
<circle cx="281.20" cy="263.51" r="1.75" fill="#f45a6a" fill-opacity="0.55" stroke="#f45a6a" stroke-width="0.8"/>
<circle cx="311.54" cy="253.64" r="1.75" fill="#f45a6a" fill-opacity="0.55" stroke="#f45a6a" stroke-width="0.8"/>
<circle cx="341.88" cy="233.43" r="1.75" fill="#f45a6a" fill-opacity="0.55" stroke="#f45a6a" stroke-width="0.8"/>
<circle cx="372.22" cy="227.32" r="1.75" fill="#f45a6a" fill-opacity="0.55" stroke="#f45a6a" stroke-width="0.8"/>
<circle cx="402.56" cy="250.82" r="1.75" fill="#f45a6a" fill-opacity="0.55" stroke="#f45a6a" stroke-width="0.8"/>
<circle cx="432.90" cy="286.07" r="1.75" fill="#f45a6a" fill-opacity="0.55" stroke="#f45a6a" stroke-width="0.8"/>
<circle cx="281.20" cy="328.84" r="1.75" fill="#e6dc58" fill-opacity="0.55" stroke="#e6dc58" stroke-width="0.8"/>
<circle cx="311.54" cy="314.27" r="1.75" fill="#e6dc58" fill-opacity="0.55" stroke="#e6dc58" stroke-width="0.8"/>
<circle cx="341.88" cy="306.28" r="1.75" fill="#e6dc58" fill-opacity="0.55" stroke="#e6dc58" stroke-width="0.8"/>
<circle cx="372.22" cy="297.82" r="1.75" fill="#e6dc58" fill-opacity="0.55" stroke="#e6dc58" stroke-width="0.8"/>
<circle cx="402.56" cy="295.47" r="1.75" fill="#e6dc58" fill-opacity="0.55" stroke="#e6dc58" stroke-width="0.8"/>
<circle cx="432.90" cy="288.42" r="1.75" fill="#e6dc58" fill-opacity="0.55" stroke="#e6dc58" stroke-width="0.8"/>
<rect x="266.30" y="201.10" width="182.20" height="145.90" fill="none" stroke="#4a4a4a" stroke-width="1.2"/>
<line x1="266.30" y1="342.00" x2="263.70" y2="342.00" stroke="#4a4a4a" stroke-width="1.0" />
<text x="262.10" y="345.60" font-size="10" text-anchor="end" fill="#1a1a1a" >10</text>
<line x1="266.30" y1="318.50" x2="263.70" y2="318.50" stroke="#4a4a4a" stroke-width="1.0" />
<text x="262.10" y="322.10" font-size="10" text-anchor="end" fill="#1a1a1a" >15</text>
<line x1="266.30" y1="295.00" x2="263.70" y2="295.00" stroke="#4a4a4a" stroke-width="1.0" />
<text x="262.10" y="298.60" font-size="10" text-anchor="end" fill="#1a1a1a" >20</text>
<line x1="266.30" y1="271.50" x2="263.70" y2="271.50" stroke="#4a4a4a" stroke-width="1.0" />
<text x="262.10" y="275.10" font-size="10" text-anchor="end" fill="#1a1a1a" >25</text>
<line x1="266.30" y1="248.00" x2="263.70" y2="248.00" stroke="#4a4a4a" stroke-width="1.0" />
<text x="262.10" y="251.60" font-size="10" text-anchor="end" fill="#1a1a1a" >30</text>
<line x1="266.30" y1="224.50" x2="263.70" y2="224.50" stroke="#4a4a4a" stroke-width="1.0" />
<text x="262.10" y="228.10" font-size="10" text-anchor="end" fill="#1a1a1a" >35</text>
<line x1="266.30" y1="201.00" x2="263.70" y2="201.00" stroke="#4a4a4a" stroke-width="1.0" />
<text x="262.10" y="204.60" font-size="10" text-anchor="end" fill="#1a1a1a" >40</text>
<line x1="266.30" y1="330.25" x2="264.70" y2="330.25" stroke="#4a4a4a" stroke-width="1.0" />
<line x1="266.30" y1="306.75" x2="264.70" y2="306.75" stroke="#4a4a4a" stroke-width="1.0" />
<line x1="266.30" y1="283.25" x2="264.70" y2="283.25" stroke="#4a4a4a" stroke-width="1.0" />
<line x1="266.30" y1="259.75" x2="264.70" y2="259.75" stroke="#4a4a4a" stroke-width="1.0" />
<line x1="266.30" y1="236.25" x2="264.70" y2="236.25" stroke="#4a4a4a" stroke-width="1.0" />
<line x1="266.30" y1="212.75" x2="264.70" y2="212.75" stroke="#4a4a4a" stroke-width="1.0" />
<line x1="281.20" y1="347.00" x2="281.20" y2="349.60" stroke="#4a4a4a" stroke-width="1.0" />
<text x="281.20" y="359.00" font-size="10" text-anchor="middle" fill="#1a1a1a" >−0.69</text>
<line x1="296.37" y1="347.00" x2="296.37" y2="348.60" stroke="#4a4a4a" stroke-width="1.0" />
<line x1="311.54" y1="347.00" x2="311.54" y2="349.60" stroke="#4a4a4a" stroke-width="1.0" />
<text x="311.54" y="359.00" font-size="10" text-anchor="middle" fill="#1a1a1a" >−0.74</text>
<line x1="326.71" y1="347.00" x2="326.71" y2="348.60" stroke="#4a4a4a" stroke-width="1.0" />
<line x1="341.88" y1="347.00" x2="341.88" y2="349.60" stroke="#4a4a4a" stroke-width="1.0" />
<text x="341.88" y="359.00" font-size="10" text-anchor="middle" fill="#1a1a1a" >−0.79</text>
<line x1="357.05" y1="347.00" x2="357.05" y2="348.60" stroke="#4a4a4a" stroke-width="1.0" />
<line x1="372.22" y1="347.00" x2="372.22" y2="349.60" stroke="#4a4a4a" stroke-width="1.0" />
<text x="372.22" y="359.00" font-size="10" text-anchor="middle" fill="#1a1a1a" >−0.84</text>
<line x1="387.39" y1="347.00" x2="387.39" y2="348.60" stroke="#4a4a4a" stroke-width="1.0" />
<line x1="402.56" y1="347.00" x2="402.56" y2="349.60" stroke="#4a4a4a" stroke-width="1.0" />
<text x="402.56" y="359.00" font-size="10" text-anchor="middle" fill="#1a1a1a" >−0.89</text>
<line x1="417.73" y1="347.00" x2="417.73" y2="348.60" stroke="#4a4a4a" stroke-width="1.0" />
<line x1="432.90" y1="347.00" x2="432.90" y2="349.60" stroke="#4a4a4a" stroke-width="1.0" />
<text x="432.90" y="359.00" font-size="10" text-anchor="middle" fill="#1a1a1a" >−0.94</text>
<text x="357.40" y="369.80" font-size="11.5" text-anchor="middle" fill="#1a1a1a" >Potential (V vs. RHE)</text>
<text x="0" y="0" font-size="11.4" text-anchor="middle" fill="#1a1a1a" transform="translate(244.5,273.8) rotate(-90)">PCE<tspan font-size="8" dy="2">ethylene</tspan><tspan dy="-2" dx="1">(%)</tspan></text>
<polyline points="388.40,208.30 408.60,208.30" fill="none" stroke="#f45a6a" stroke-width="0.9" stroke-dasharray="4,2.8" stroke-linejoin="round" />
<circle cx="398.20" cy="208.30" r="1.75" fill="#f45a6a" fill-opacity="0.55" stroke="#f45a6a" stroke-width="0.8"/>
<text x="411.30" y="211.50" font-size="8.8" text-anchor="start" fill="#1a1a1a" >CuBBTA</text>
<polyline points="388.40,219.60 408.60,219.60" fill="none" stroke="#e6dc58" stroke-width="0.9" stroke-dasharray="4,2.8" stroke-linejoin="round" />
<circle cx="398.20" cy="219.60" r="1.75" fill="#e6dc58" fill-opacity="0.55" stroke="#e6dc58" stroke-width="0.8"/>
<text x="411.30" y="222.80" font-size="8.8" text-anchor="start" fill="#1a1a1a" >D-Cu</text>
<text x="471.50" y="201.00" font-size="21.5" text-anchor="start" fill="#000" >e</text>
<rect x="493.10" y="201.10" width="182.40" height="145.90" fill="#fef8f0" />
<rect x="493.10" y="201.10" width="182.40" height="145.90" fill="none" stroke="#4a4a4a" stroke-width="1.2"/>
<line x1="493.10" y1="332.50" x2="490.50" y2="332.50" stroke="#4a4a4a" stroke-width="1.0" />
<text x="488.90" y="336.10" font-size="10" text-anchor="end" fill="#1a1a1a" >20</text>
<line x1="493.10" y1="303.15" x2="490.50" y2="303.15" stroke="#4a4a4a" stroke-width="1.0" />
<text x="488.90" y="306.75" font-size="10" text-anchor="end" fill="#1a1a1a" >24</text>
<line x1="493.10" y1="273.80" x2="490.50" y2="273.80" stroke="#4a4a4a" stroke-width="1.0" />
<text x="488.90" y="277.40" font-size="10" text-anchor="end" fill="#1a1a1a" >28</text>
<line x1="493.10" y1="244.45" x2="490.50" y2="244.45" stroke="#4a4a4a" stroke-width="1.0" />
<text x="488.90" y="248.05" font-size="10" text-anchor="end" fill="#1a1a1a" >32</text>
<line x1="493.10" y1="215.10" x2="490.50" y2="215.10" stroke="#4a4a4a" stroke-width="1.0" />
<text x="488.90" y="218.70" font-size="10" text-anchor="end" fill="#1a1a1a" >36</text>
<line x1="493.10" y1="347.18" x2="491.50" y2="347.18" stroke="#4a4a4a" stroke-width="1.0" />
<line x1="493.10" y1="317.82" x2="491.50" y2="317.82" stroke="#4a4a4a" stroke-width="1.0" />
<line x1="493.10" y1="288.48" x2="491.50" y2="288.48" stroke="#4a4a4a" stroke-width="1.0" />
<line x1="493.10" y1="259.12" x2="491.50" y2="259.12" stroke="#4a4a4a" stroke-width="1.0" />
<line x1="493.10" y1="229.77" x2="491.50" y2="229.77" stroke="#4a4a4a" stroke-width="1.0" />
<line x1="493.10" y1="200.42" x2="491.50" y2="200.42" stroke="#4a4a4a" stroke-width="1.0" />
<line x1="493.10" y1="347.00" x2="493.10" y2="349.60" stroke="#4a4a4a" stroke-width="1.0" />
<text x="493.10" y="359.00" font-size="10" text-anchor="middle" fill="#1a1a1a" >0</text>
<line x1="533.70" y1="347.00" x2="533.70" y2="349.60" stroke="#4a4a4a" stroke-width="1.0" />
<text x="533.70" y="359.00" font-size="10" text-anchor="middle" fill="#1a1a1a" >100</text>
<line x1="574.30" y1="347.00" x2="574.30" y2="349.60" stroke="#4a4a4a" stroke-width="1.0" />
<text x="574.30" y="359.00" font-size="10" text-anchor="middle" fill="#1a1a1a" >200</text>
<line x1="614.90" y1="347.00" x2="614.90" y2="349.60" stroke="#4a4a4a" stroke-width="1.0" />
<text x="614.90" y="359.00" font-size="10" text-anchor="middle" fill="#1a1a1a" >300</text>
<line x1="655.50" y1="347.00" x2="655.50" y2="349.60" stroke="#4a4a4a" stroke-width="1.0" />
<text x="655.50" y="359.00" font-size="10" text-anchor="middle" fill="#1a1a1a" >400</text>
<line x1="513.40" y1="347.00" x2="513.40" y2="348.60" stroke="#4a4a4a" stroke-width="1.0" />
<line x1="554.00" y1="347.00" x2="554.00" y2="348.60" stroke="#4a4a4a" stroke-width="1.0" />
<line x1="594.60" y1="347.00" x2="594.60" y2="348.60" stroke="#4a4a4a" stroke-width="1.0" />
<line x1="635.20" y1="347.00" x2="635.20" y2="348.60" stroke="#4a4a4a" stroke-width="1.0" />
<line x1="675.80" y1="347.00" x2="675.80" y2="348.60" stroke="#4a4a4a" stroke-width="1.0" />
<text x="584.80" y="371.00" font-size="11.5" text-anchor="middle" fill="#1a1a1a" >Current density (mA cm<tspan font-size="8" dy="-4.5">-2</tspan><tspan dy="4.5">)</tspan></text>
<text x="0" y="0" font-size="11.4" text-anchor="middle" fill="#1a1a1a" transform="translate(471.6,273.3) rotate(-90)">PCE<tspan font-size="8" dy="2">ethylene</tspan><tspan dy="-2" dx="1">(%)</tspan></text>
<circle cx="503.49" cy="332.13" r="2.3" fill="#909090"/>
<circle cx="502.99" cy="331.53" r="0.9" fill="#fff" fill-opacity="0.35"/>
<circle cx="520.71" cy="269.40" r="2.3" fill="#e6a0f0"/>
<circle cx="520.21" cy="268.80" r="0.9" fill="#fff" fill-opacity="0.35"/>
<circle cx="556.03" cy="296.55" r="2.3" fill="#d8a020"/>
<circle cx="555.53" cy="295.95" r="0.9" fill="#fff" fill-opacity="0.35"/>
<circle cx="583.88" cy="326.63" r="2.3" fill="#20c8d0"/>
<circle cx="583.38" cy="326.03" r="0.9" fill="#fff" fill-opacity="0.35"/>
<circle cx="606.37" cy="303.15" r="2.3" fill="#f06818"/>
<circle cx="605.87" cy="302.55" r="0.9" fill="#fff" fill-opacity="0.35"/>
<circle cx="622.21" cy="306.08" r="2.3" fill="#5070f0"/>
<circle cx="621.71" cy="305.48" r="0.9" fill="#fff" fill-opacity="0.35"/>
<circle cx="635.00" cy="282.24" r="2.3" fill="#b060e0"/>
<circle cx="634.50" cy="281.64" r="0.9" fill="#fff" fill-opacity="0.35"/>
<circle cx="621.19" cy="259.49" r="2.3" fill="#5898e0"/>
<circle cx="620.69" cy="258.89" r="0.9" fill="#fff" fill-opacity="0.35"/>
<circle cx="655.50" cy="246.87" r="2.3" fill="#30b070"/>
<circle cx="655.00" cy="246.27" r="0.9" fill="#fff" fill-opacity="0.35"/>
<circle cx="612.46" cy="219.50" r="2.3" fill="#9a9a18"/>
<circle cx="611.96" cy="218.90" r="0.9" fill="#fff" fill-opacity="0.35"/>
<polygon points="616.52,223.24 617.52,225.46 619.95,225.73 618.14,227.37 618.64,229.75 616.52,228.54 614.41,229.75 614.91,227.37 613.10,225.73 615.52,225.46" fill="#f46a72"/>
<text x="508.50" y="336.00" font-size="8.85" text-anchor="start" fill="#222" >Cu<tspan font-size="6.5" dy="2">3</tspan><tspan dy="-2">N-Ag</tspan></text>
<text x="500.80" y="264.50" font-size="8.85" text-anchor="start" fill="#222" >Au NWs-P1</text>
<text x="534.00" y="292.20" font-size="8.85" text-anchor="start" fill="#222" >Cu-DEA-KB</text>
<text x="576.10" y="337.50" font-size="8.85" text-anchor="start" fill="#222" >Cu2</text>
<text x="584.40" y="298.00" font-size="8.85" text-anchor="start" fill="#222" >Cu<tspan font-size="6.5" dy="2">1</tspan><tspan dy="-2">Ni-BDP</tspan></text>
<text x="606.70" y="317.70" font-size="8.85" text-anchor="start" fill="#222" >Cu<tspan font-size="6.5" dy="2">2</tspan><tspan dy="-2">-C</tspan><tspan font-size="6.5" dy="2">2</tspan><tspan dy="-2">N</tspan></text>
<text x="638.60" y="284.80" font-size="8.85" text-anchor="start" fill="#222" >Ln-Cu</text>
<text x="608.50" y="255.60" font-size="8.85" text-anchor="start" fill="#222" >TA−Cu</text>
<text x="636.90" y="259.50" font-size="8.85" text-anchor="start" fill="#222" >Cu<tspan font-size="6.5" dy="-4">δ+</tspan><tspan dy="4">NCN</tspan></text>
<text x="590.50" y="216.00" font-size="8.85" text-anchor="start" fill="#222" >Cu@C<tspan font-size="6" dy="2">C=O,1</tspan></text>
<text x="621.90" y="229.90" font-size="8.85" text-anchor="start" fill="#222" >This work</text>
<text x="1.50" y="389.40" font-size="21.5" text-anchor="start" fill="#000" >f</text>
<defs><linearGradient id="gf" x1="0" y1="0" x2="0" y2="1"><stop offset="0" stop-color="#82a9ed"/><stop offset="0.45" stop-color="#9bbaf0"/><stop offset="1" stop-color="#d6e2f8"/></linearGradient></defs>
<rect x="46.90" y="481.34" width="21.50" height="49.26" fill="url(#gf)" />
<g stroke="#222" stroke-width="0.9"><line x1="57.65" y1="478.52" x2="57.65" y2="484.16"/><line x1="55.05" y1="478.52" x2="60.25" y2="478.52"/><line x1="55.05" y1="484.16" x2="60.25" y2="484.16"/></g>
<rect x="83.42" y="456.42" width="21.50" height="74.18" fill="url(#gf)" />
<g stroke="#222" stroke-width="0.9"><line x1="94.17" y1="449.70" x2="94.17" y2="463.14"/><line x1="91.57" y1="449.70" x2="96.77" y2="449.70"/><line x1="91.57" y1="463.14" x2="96.77" y2="463.14"/></g>
<rect x="119.94" y="428.97" width="21.50" height="101.63" fill="url(#gf)" />
<g stroke="#222" stroke-width="0.9"><line x1="130.69" y1="425.36" x2="130.69" y2="432.57"/><line x1="128.09" y1="425.36" x2="133.29" y2="425.36"/><line x1="128.09" y1="432.57" x2="133.29" y2="432.57"/></g>
<rect x="156.46" y="413.97" width="21.50" height="116.63" fill="url(#gf)" />
<g stroke="#222" stroke-width="0.9"><line x1="167.21" y1="406.09" x2="167.21" y2="421.86"/><line x1="164.61" y1="406.09" x2="169.81" y2="406.09"/><line x1="164.61" y1="421.86" x2="169.81" y2="421.86"/></g>
<rect x="192.98" y="423.13" width="21.50" height="107.47" fill="url(#gf)" />
<g stroke="#222" stroke-width="0.9"><line x1="203.73" y1="418.26" x2="203.73" y2="427.99"/><line x1="201.13" y1="418.26" x2="206.33" y2="418.26"/><line x1="201.13" y1="427.99" x2="206.33" y2="427.99"/></g>
<rect x="39.20" y="384.30" width="183.10" height="146.30" fill="none" stroke="#4a4a4a" stroke-width="1.2"/>
<line x1="39.20" y1="530.60" x2="36.60" y2="530.60" stroke="#4a4a4a" stroke-width="1.0" />
<text x="35.00" y="534.20" font-size="10" text-anchor="end" fill="#1a1a1a" >0</text>
<line x1="39.20" y1="511.13" x2="36.60" y2="511.13" stroke="#4a4a4a" stroke-width="1.0" />
<text x="35.00" y="514.73" font-size="10" text-anchor="end" fill="#1a1a1a" >10</text>
<line x1="39.20" y1="491.66" x2="36.60" y2="491.66" stroke="#4a4a4a" stroke-width="1.0" />
<text x="35.00" y="495.26" font-size="10" text-anchor="end" fill="#1a1a1a" >20</text>
<line x1="39.20" y1="472.19" x2="36.60" y2="472.19" stroke="#4a4a4a" stroke-width="1.0" />
<text x="35.00" y="475.79" font-size="10" text-anchor="end" fill="#1a1a1a" >30</text>
<line x1="39.20" y1="452.72" x2="36.60" y2="452.72" stroke="#4a4a4a" stroke-width="1.0" />
<text x="35.00" y="456.32" font-size="10" text-anchor="end" fill="#1a1a1a" >40</text>
<line x1="39.20" y1="433.25" x2="36.60" y2="433.25" stroke="#4a4a4a" stroke-width="1.0" />
<text x="35.00" y="436.85" font-size="10" text-anchor="end" fill="#1a1a1a" >50</text>
<line x1="39.20" y1="413.78" x2="36.60" y2="413.78" stroke="#4a4a4a" stroke-width="1.0" />
<text x="35.00" y="417.38" font-size="10" text-anchor="end" fill="#1a1a1a" >60</text>
<line x1="39.20" y1="394.31" x2="36.60" y2="394.31" stroke="#4a4a4a" stroke-width="1.0" />
<text x="35.00" y="397.91" font-size="10" text-anchor="end" fill="#1a1a1a" >70</text>
<line x1="39.20" y1="520.87" x2="37.60" y2="520.87" stroke="#4a4a4a" stroke-width="1.0" />
<line x1="39.20" y1="501.40" x2="37.60" y2="501.40" stroke="#4a4a4a" stroke-width="1.0" />
<line x1="39.20" y1="481.93" x2="37.60" y2="481.93" stroke="#4a4a4a" stroke-width="1.0" />
<line x1="39.20" y1="462.46" x2="37.60" y2="462.46" stroke="#4a4a4a" stroke-width="1.0" />
<line x1="39.20" y1="442.99" x2="37.60" y2="442.99" stroke="#4a4a4a" stroke-width="1.0" />
<line x1="39.20" y1="423.51" x2="37.60" y2="423.51" stroke="#4a4a4a" stroke-width="1.0" />
<line x1="39.20" y1="404.05" x2="37.60" y2="404.05" stroke="#4a4a4a" stroke-width="1.0" />
<line x1="39.20" y1="384.58" x2="37.60" y2="384.58" stroke="#4a4a4a" stroke-width="1.0" />
<line x1="57.65" y1="530.60" x2="57.65" y2="533.20" stroke="#4a4a4a" stroke-width="1.0" />
<text x="57.65" y="542.30" font-size="10" text-anchor="middle" fill="#1a1a1a" >3.0</text>
<line x1="75.91" y1="530.60" x2="75.91" y2="532.20" stroke="#4a4a4a" stroke-width="1.0" />
<line x1="94.17" y1="530.60" x2="94.17" y2="533.20" stroke="#4a4a4a" stroke-width="1.0" />
<text x="94.17" y="542.30" font-size="10" text-anchor="middle" fill="#1a1a1a" >3.2</text>
<line x1="112.43" y1="530.60" x2="112.43" y2="532.20" stroke="#4a4a4a" stroke-width="1.0" />
<line x1="130.69" y1="530.60" x2="130.69" y2="533.20" stroke="#4a4a4a" stroke-width="1.0" />
<text x="130.69" y="542.30" font-size="10" text-anchor="middle" fill="#1a1a1a" >3.4</text>
<line x1="148.95" y1="530.60" x2="148.95" y2="532.20" stroke="#4a4a4a" stroke-width="1.0" />
<line x1="167.21" y1="530.60" x2="167.21" y2="533.20" stroke="#4a4a4a" stroke-width="1.0" />
<text x="167.21" y="542.30" font-size="10" text-anchor="middle" fill="#1a1a1a" >3.6</text>
<line x1="185.47" y1="530.60" x2="185.47" y2="532.20" stroke="#4a4a4a" stroke-width="1.0" />
<line x1="203.73" y1="530.60" x2="203.73" y2="533.20" stroke="#4a4a4a" stroke-width="1.0" />
<text x="203.73" y="542.30" font-size="10" text-anchor="middle" fill="#1a1a1a" >3.8</text>
<text x="112.10" y="553.70" font-size="11.5" text-anchor="start" fill="#1a1a1a" >E<tspan font-size="7.5" dy="2">cell</tspan><tspan dy="-2"> (V)</tspan></text>
<text x="0" y="0" font-size="11.8" text-anchor="middle" fill="#1a1a1a" transform="translate(21.0,458.0) rotate(-90)">FE (%)</text>
<rect x="44.40" y="387.20" width="19.40" height="9.40" fill="url(#gf)" />
<text x="66.80" y="394.80" font-size="8.8" text-anchor="start" fill="#1a1a1a" >CuBBTA</text>
<text x="219.00" y="394.40" font-size="8.8" text-anchor="end" fill="#1a1a1a" >MEA-based electrolyser</text>
<text x="231.50" y="390.30" font-size="21.5" text-anchor="start" fill="#000" >g</text>
<polyline points="267.60,495.97 268.70,496.33 269.79,498.08 270.89,498.98 271.98,498.67 273.08,499.29 274.18,498.99 275.27,496.67 276.37,496.59 277.46,495.01 278.56,492.33 279.65,492.64 280.75,491.47 281.85,491.47 282.94,490.68 284.04,491.46 285.13,490.64 286.23,489.74 287.33,488.75 288.42,486.85 289.52,485.89 290.61,486.27 291.71,484.96 292.81,485.27 293.90,485.84 295.00,486.46 296.09,484.80 297.19,484.97 298.29,484.05 299.38,483.43 300.48,483.36 301.57,482.66 302.67,483.18 303.76,482.16 304.86,482.45 305.96,481.84 307.05,482.14 308.15,483.65 309.24,483.80 310.34,483.71 311.44,482.18 312.53,482.76 313.63,482.11 314.72,482.34 315.82,481.75 316.92,481.68 318.01,481.47 319.11,480.81 320.20,480.55 321.30,479.78 322.40,479.88 323.49,479.18 324.59,479.02 325.68,478.51" fill="none" stroke="#8aa0f6" stroke-width="0.8"  stroke-linejoin="round" />
<polyline points="326.78,482.78 327.87,483.09 328.97,481.42 330.07,480.75 331.16,480.08 332.26,479.88 333.35,478.75 334.45,479.11 335.55,477.62 336.64,477.65 337.74,477.86 338.83,477.99 339.93,476.48 341.03,476.78 342.12,477.12 343.22,476.80 344.31,476.95 345.41,477.05 346.50,477.01 347.60,476.83 348.70,476.81 349.79,477.18 350.89,476.96 351.98,477.21 353.08,476.95 354.18,477.12 355.27,476.91 356.37,476.84 357.46,477.02 358.56,476.79 359.66,477.05 360.75,477.12 361.85,476.87 362.94,477.07 364.04,476.97 365.14,476.85 366.23,476.74 367.33,476.89 368.42,476.91 369.52,476.53 370.61,476.72 371.71,476.41 372.81,476.40 373.90,476.58 375.00,476.50 376.09,476.44 377.19,476.35 378.29,476.34 379.38,476.33 380.48,476.31 381.57,475.70 382.67,476.55 383.77,476.80 384.86,476.44 385.96,477.73 387.05,478.15 388.15,477.58 389.24,478.39 390.34,478.14 391.44,479.99 392.53,480.36 393.63,481.11 394.72,482.58 395.82,482.12 396.92,482.72 398.01,486.07 399.11,485.41 400.20,485.94 401.30,485.82 402.40,487.60 403.49,488.76 404.59,489.08 405.68,490.68 406.78,491.06 407.88,490.96 408.97,491.88 410.07,493.95 411.16,494.22 412.26,494.62 413.35,495.74 414.45,495.75 415.55,495.57" fill="none" stroke="#8aa0f6" stroke-width="0.8"  stroke-linejoin="round" />
<polyline points="416.64,490.32 417.74,489.19 418.83,489.88 419.93,489.92 421.03,489.44 422.12,490.40 423.22,488.73 424.31,487.77 425.41,487.81 426.51,487.83 427.60,486.70 428.70,487.50 429.79,488.02 430.89,488.34 431.98,488.65 433.08,489.58 434.18,489.15 435.27,489.05 436.37,488.04 437.46,488.37 438.56,487.29 439.66,488.04 440.75,487.32 441.85,486.35 442.94,485.52 444.04,485.82 445.14,485.82 446.23,485.86 447.33,485.04 448.42,485.36 449.52,484.06 450.62,484.43 451.71,485.96 452.81,485.38 453.90,482.34 455.00,481.95 456.09,481.71 457.19,482.45 458.29,482.72 459.38,482.69 460.48,482.32 461.57,482.64 462.67,481.94 463.77,481.32 464.86,480.98 465.96,480.63 467.05,479.38 468.15,480.28 469.25,480.20 470.34,478.45 471.44,478.48 472.53,478.26 473.63,479.17 474.73,478.38 475.82,478.78 476.92,480.32 478.01,479.81 479.11,480.02 480.20,480.66 481.30,480.86 482.40,481.18 483.49,480.98 484.59,481.04 485.68,481.08 486.78,479.85 487.88,479.99 488.97,478.76 490.07,479.81 491.16,478.37 492.26,478.74 493.36,478.41 494.45,478.52 495.55,478.71 496.64,479.51 497.74,480.72 498.83,479.72 499.93,480.85 501.03,480.78 502.12,480.31 503.22,480.64 504.31,480.61 505.41,479.48 506.51,479.75 507.60,479.90 508.70,479.55 509.79,478.03 510.89,478.17 511.99,477.17 513.08,477.61 514.18,477.69 515.27,476.97 516.37,476.35 517.47,477.29 518.56,476.13 519.66,475.79 520.75,475.76 521.85,475.47 522.94,476.57 524.04,475.44 525.14,475.29 526.23,475.58 527.33,475.45 528.42,475.43 529.52,475.31 530.62,475.35 531.71,475.33 532.81,475.20 533.90,475.53 535.00,475.51 536.10,475.48 537.19,475.48 538.29,475.50 539.38,475.15 540.48,475.25 541.57,475.62 542.67,475.50 543.77,475.64 544.86,476.39 545.96,476.72 547.05,476.36 548.15,476.58 549.25,477.07 550.34,477.48 551.44,477.30 552.53,477.54 553.63,476.75 554.73,476.43 555.82,477.36 556.92,478.44 558.01,478.88 559.11,479.13 560.21,479.37 561.30,479.76 562.40,481.16 563.49,480.86 564.59,480.91 565.68,480.99 566.78,481.97 567.88,482.62 568.97,483.10 570.07,484.42 571.16,484.64 572.26,485.30 573.36,485.93 574.45,485.65 575.55,486.17 576.64,488.25 577.74,488.65 578.84,489.27 579.93,488.39 581.03,488.17 582.12,488.99 583.22,487.87 584.32,487.76 585.41,488.32 586.51,487.93 587.60,489.03 588.70,488.41 589.79,489.18 590.89,488.53 591.99,488.41 593.08,488.31 594.18,487.82 595.27,487.60 596.37,487.63 597.47,486.07 598.56,486.33 599.66,485.53 600.75,484.12 601.85,484.99 602.95,484.60 604.04,484.84 605.14,484.88 606.23,487.42 607.33,487.80 608.42,486.59 609.52,487.96 610.62,486.92 611.71,487.30 612.81,487.07 613.90,486.95 615.00,487.64 616.10,487.31 617.19,488.61 618.29,487.38 619.38,487.70 620.48,487.03 621.58,487.76 622.67,486.43 623.77,485.85 624.86,487.65 625.96,487.86 627.06,488.09 628.15,488.33 629.25,489.22 630.34,488.88 631.44,488.31 632.53,487.20" fill="none" stroke="#8aa0f6" stroke-width="0.8"  stroke-linejoin="round" />
<g fill="none" stroke="#5c7af4" stroke-width="0.65">
<circle cx="267.60" cy="495.97" r="1.1"/>
<circle cx="268.70" cy="496.33" r="1.1"/>
<circle cx="269.79" cy="498.08" r="1.1"/>
<circle cx="270.89" cy="498.98" r="1.1"/>
<circle cx="271.98" cy="498.67" r="1.1"/>
<circle cx="273.08" cy="499.29" r="1.1"/>
<circle cx="274.18" cy="498.99" r="1.1"/>
<circle cx="275.27" cy="496.67" r="1.1"/>
<circle cx="276.37" cy="496.59" r="1.1"/>
<circle cx="277.46" cy="495.01" r="1.1"/>
<circle cx="278.56" cy="492.33" r="1.1"/>
<circle cx="279.65" cy="492.64" r="1.1"/>
<circle cx="280.75" cy="491.47" r="1.1"/>
<circle cx="281.85" cy="491.47" r="1.1"/>
<circle cx="282.94" cy="490.68" r="1.1"/>
<circle cx="284.04" cy="491.46" r="1.1"/>
<circle cx="285.13" cy="490.64" r="1.1"/>
<circle cx="286.23" cy="489.74" r="1.1"/>
<circle cx="287.33" cy="488.75" r="1.1"/>
<circle cx="288.42" cy="486.85" r="1.1"/>
<circle cx="289.52" cy="485.89" r="1.1"/>
<circle cx="290.61" cy="486.27" r="1.1"/>
<circle cx="291.71" cy="484.96" r="1.1"/>
<circle cx="292.81" cy="485.27" r="1.1"/>
<circle cx="293.90" cy="485.84" r="1.1"/>
<circle cx="295.00" cy="486.46" r="1.1"/>
<circle cx="296.09" cy="484.80" r="1.1"/>
<circle cx="297.19" cy="484.97" r="1.1"/>
<circle cx="298.29" cy="484.05" r="1.1"/>
<circle cx="299.38" cy="483.43" r="1.1"/>
<circle cx="300.48" cy="483.36" r="1.1"/>
<circle cx="301.57" cy="482.66" r="1.1"/>
<circle cx="302.67" cy="483.18" r="1.1"/>
<circle cx="303.76" cy="482.16" r="1.1"/>
<circle cx="304.86" cy="482.45" r="1.1"/>
<circle cx="305.96" cy="481.84" r="1.1"/>
<circle cx="307.05" cy="482.14" r="1.1"/>
<circle cx="308.15" cy="483.65" r="1.1"/>
<circle cx="309.24" cy="483.80" r="1.1"/>
<circle cx="310.34" cy="483.71" r="1.1"/>
<circle cx="311.44" cy="482.18" r="1.1"/>
<circle cx="312.53" cy="482.76" r="1.1"/>
<circle cx="313.63" cy="482.11" r="1.1"/>
<circle cx="314.72" cy="482.34" r="1.1"/>
<circle cx="315.82" cy="481.75" r="1.1"/>
<circle cx="316.92" cy="481.68" r="1.1"/>
<circle cx="318.01" cy="481.47" r="1.1"/>
<circle cx="319.11" cy="480.81" r="1.1"/>
<circle cx="320.20" cy="480.55" r="1.1"/>
<circle cx="321.30" cy="479.78" r="1.1"/>
<circle cx="322.40" cy="479.88" r="1.1"/>
<circle cx="323.49" cy="479.18" r="1.1"/>
<circle cx="324.59" cy="479.02" r="1.1"/>
<circle cx="325.68" cy="478.51" r="1.1"/>
<circle cx="326.78" cy="482.78" r="1.1"/>
<circle cx="327.87" cy="483.09" r="1.1"/>
<circle cx="328.97" cy="481.42" r="1.1"/>
<circle cx="330.07" cy="480.75" r="1.1"/>
<circle cx="331.16" cy="480.08" r="1.1"/>
<circle cx="332.26" cy="479.88" r="1.1"/>
<circle cx="333.35" cy="478.75" r="1.1"/>
<circle cx="334.45" cy="479.11" r="1.1"/>
<circle cx="335.55" cy="477.62" r="1.1"/>
<circle cx="336.64" cy="477.65" r="1.1"/>
<circle cx="337.74" cy="477.86" r="1.1"/>
<circle cx="338.83" cy="477.99" r="1.1"/>
<circle cx="339.93" cy="476.48" r="1.1"/>
<circle cx="341.03" cy="476.78" r="1.1"/>
<circle cx="342.12" cy="477.12" r="1.1"/>
<circle cx="343.22" cy="476.80" r="1.1"/>
<circle cx="344.31" cy="476.95" r="1.1"/>
<circle cx="345.41" cy="477.05" r="1.1"/>
<circle cx="346.50" cy="477.01" r="1.1"/>
<circle cx="347.60" cy="476.83" r="1.1"/>
<circle cx="348.70" cy="476.81" r="1.1"/>
<circle cx="349.79" cy="477.18" r="1.1"/>
<circle cx="350.89" cy="476.96" r="1.1"/>
<circle cx="351.98" cy="477.21" r="1.1"/>
<circle cx="353.08" cy="476.95" r="1.1"/>
<circle cx="354.18" cy="477.12" r="1.1"/>
<circle cx="355.27" cy="476.91" r="1.1"/>
<circle cx="356.37" cy="476.84" r="1.1"/>
<circle cx="357.46" cy="477.02" r="1.1"/>
<circle cx="358.56" cy="476.79" r="1.1"/>
<circle cx="359.66" cy="477.05" r="1.1"/>
<circle cx="360.75" cy="477.12" r="1.1"/>
<circle cx="361.85" cy="476.87" r="1.1"/>
<circle cx="362.94" cy="477.07" r="1.1"/>
<circle cx="364.04" cy="476.97" r="1.1"/>
<circle cx="365.14" cy="476.85" r="1.1"/>
<circle cx="366.23" cy="476.74" r="1.1"/>
<circle cx="367.33" cy="476.89" r="1.1"/>
<circle cx="368.42" cy="476.91" r="1.1"/>
<circle cx="369.52" cy="476.53" r="1.1"/>
<circle cx="370.61" cy="476.72" r="1.1"/>
<circle cx="371.71" cy="476.41" r="1.1"/>
<circle cx="372.81" cy="476.40" r="1.1"/>
<circle cx="373.90" cy="476.58" r="1.1"/>
<circle cx="375.00" cy="476.50" r="1.1"/>
<circle cx="376.09" cy="476.44" r="1.1"/>
<circle cx="377.19" cy="476.35" r="1.1"/>
<circle cx="378.29" cy="476.34" r="1.1"/>
<circle cx="379.38" cy="476.33" r="1.1"/>
<circle cx="380.48" cy="476.31" r="1.1"/>
<circle cx="381.57" cy="475.70" r="1.1"/>
<circle cx="382.67" cy="476.55" r="1.1"/>
<circle cx="383.77" cy="476.80" r="1.1"/>
<circle cx="384.86" cy="476.44" r="1.1"/>
<circle cx="385.96" cy="477.73" r="1.1"/>
<circle cx="387.05" cy="478.15" r="1.1"/>
<circle cx="388.15" cy="477.58" r="1.1"/>
<circle cx="389.24" cy="478.39" r="1.1"/>
<circle cx="390.34" cy="478.14" r="1.1"/>
<circle cx="391.44" cy="479.99" r="1.1"/>
<circle cx="392.53" cy="480.36" r="1.1"/>
<circle cx="393.63" cy="481.11" r="1.1"/>
<circle cx="394.72" cy="482.58" r="1.1"/>
<circle cx="395.82" cy="482.12" r="1.1"/>
<circle cx="396.92" cy="482.72" r="1.1"/>
<circle cx="398.01" cy="486.07" r="1.1"/>
<circle cx="399.11" cy="485.41" r="1.1"/>
<circle cx="400.20" cy="485.94" r="1.1"/>
<circle cx="401.30" cy="485.82" r="1.1"/>
<circle cx="402.40" cy="487.60" r="1.1"/>
<circle cx="403.49" cy="488.76" r="1.1"/>
<circle cx="404.59" cy="489.08" r="1.1"/>
<circle cx="405.68" cy="490.68" r="1.1"/>
<circle cx="406.78" cy="491.06" r="1.1"/>
<circle cx="407.88" cy="490.96" r="1.1"/>
<circle cx="408.97" cy="491.88" r="1.1"/>
<circle cx="410.07" cy="493.95" r="1.1"/>
<circle cx="411.16" cy="494.22" r="1.1"/>
<circle cx="412.26" cy="494.62" r="1.1"/>
<circle cx="413.35" cy="495.74" r="1.1"/>
<circle cx="414.45" cy="495.75" r="1.1"/>
<circle cx="415.55" cy="495.57" r="1.1"/>
<circle cx="416.64" cy="490.32" r="1.1"/>
<circle cx="417.74" cy="489.19" r="1.1"/>
<circle cx="418.83" cy="489.88" r="1.1"/>
<circle cx="419.93" cy="489.92" r="1.1"/>
<circle cx="421.03" cy="489.44" r="1.1"/>
<circle cx="422.12" cy="490.40" r="1.1"/>
<circle cx="423.22" cy="488.73" r="1.1"/>
<circle cx="424.31" cy="487.77" r="1.1"/>
<circle cx="425.41" cy="487.81" r="1.1"/>
<circle cx="426.51" cy="487.83" r="1.1"/>
<circle cx="427.60" cy="486.70" r="1.1"/>
<circle cx="428.70" cy="487.50" r="1.1"/>
<circle cx="429.79" cy="488.02" r="1.1"/>
<circle cx="430.89" cy="488.34" r="1.1"/>
<circle cx="431.98" cy="488.65" r="1.1"/>
<circle cx="433.08" cy="489.58" r="1.1"/>
<circle cx="434.18" cy="489.15" r="1.1"/>
<circle cx="435.27" cy="489.05" r="1.1"/>
<circle cx="436.37" cy="488.04" r="1.1"/>
<circle cx="437.46" cy="488.37" r="1.1"/>
<circle cx="438.56" cy="487.29" r="1.1"/>
<circle cx="439.66" cy="488.04" r="1.1"/>
<circle cx="440.75" cy="487.32" r="1.1"/>
<circle cx="441.85" cy="486.35" r="1.1"/>
<circle cx="442.94" cy="485.52" r="1.1"/>
<circle cx="444.04" cy="485.82" r="1.1"/>
<circle cx="445.14" cy="485.82" r="1.1"/>
<circle cx="446.23" cy="485.86" r="1.1"/>
<circle cx="447.33" cy="485.04" r="1.1"/>
<circle cx="448.42" cy="485.36" r="1.1"/>
<circle cx="449.52" cy="484.06" r="1.1"/>
<circle cx="450.62" cy="484.43" r="1.1"/>
<circle cx="451.71" cy="485.96" r="1.1"/>
<circle cx="452.81" cy="485.38" r="1.1"/>
<circle cx="453.90" cy="482.34" r="1.1"/>
<circle cx="455.00" cy="481.95" r="1.1"/>
<circle cx="456.09" cy="481.71" r="1.1"/>
<circle cx="457.19" cy="482.45" r="1.1"/>
<circle cx="458.29" cy="482.72" r="1.1"/>
<circle cx="459.38" cy="482.69" r="1.1"/>
<circle cx="460.48" cy="482.32" r="1.1"/>
<circle cx="461.57" cy="482.64" r="1.1"/>
<circle cx="462.67" cy="481.94" r="1.1"/>
<circle cx="463.77" cy="481.32" r="1.1"/>
<circle cx="464.86" cy="480.98" r="1.1"/>
<circle cx="465.96" cy="480.63" r="1.1"/>
<circle cx="467.05" cy="479.38" r="1.1"/>
<circle cx="468.15" cy="480.28" r="1.1"/>
<circle cx="469.25" cy="480.20" r="1.1"/>
<circle cx="470.34" cy="478.45" r="1.1"/>
<circle cx="471.44" cy="478.48" r="1.1"/>
<circle cx="472.53" cy="478.26" r="1.1"/>
<circle cx="473.63" cy="479.17" r="1.1"/>
<circle cx="474.73" cy="478.38" r="1.1"/>
<circle cx="475.82" cy="478.78" r="1.1"/>
<circle cx="476.92" cy="480.32" r="1.1"/>
<circle cx="478.01" cy="479.81" r="1.1"/>
<circle cx="479.11" cy="480.02" r="1.1"/>
<circle cx="480.20" cy="480.66" r="1.1"/>
<circle cx="481.30" cy="480.86" r="1.1"/>
<circle cx="482.40" cy="481.18" r="1.1"/>
<circle cx="483.49" cy="480.98" r="1.1"/>
<circle cx="484.59" cy="481.04" r="1.1"/>
<circle cx="485.68" cy="481.08" r="1.1"/>
<circle cx="486.78" cy="479.85" r="1.1"/>
<circle cx="487.88" cy="479.99" r="1.1"/>
<circle cx="488.97" cy="478.76" r="1.1"/>
<circle cx="490.07" cy="479.81" r="1.1"/>
<circle cx="491.16" cy="478.37" r="1.1"/>
<circle cx="492.26" cy="478.74" r="1.1"/>
<circle cx="493.36" cy="478.41" r="1.1"/>
<circle cx="494.45" cy="478.52" r="1.1"/>
<circle cx="495.55" cy="478.71" r="1.1"/>
<circle cx="496.64" cy="479.51" r="1.1"/>
<circle cx="497.74" cy="480.72" r="1.1"/>
<circle cx="498.83" cy="479.72" r="1.1"/>
<circle cx="499.93" cy="480.85" r="1.1"/>
<circle cx="501.03" cy="480.78" r="1.1"/>
<circle cx="502.12" cy="480.31" r="1.1"/>
<circle cx="503.22" cy="480.64" r="1.1"/>
<circle cx="504.31" cy="480.61" r="1.1"/>
<circle cx="505.41" cy="479.48" r="1.1"/>
<circle cx="506.51" cy="479.75" r="1.1"/>
<circle cx="507.60" cy="479.90" r="1.1"/>
<circle cx="508.70" cy="479.55" r="1.1"/>
<circle cx="509.79" cy="478.03" r="1.1"/>
<circle cx="510.89" cy="478.17" r="1.1"/>
<circle cx="511.99" cy="477.17" r="1.1"/>
<circle cx="513.08" cy="477.61" r="1.1"/>
<circle cx="514.18" cy="477.69" r="1.1"/>
<circle cx="515.27" cy="476.97" r="1.1"/>
<circle cx="516.37" cy="476.35" r="1.1"/>
<circle cx="517.47" cy="477.29" r="1.1"/>
<circle cx="518.56" cy="476.13" r="1.1"/>
<circle cx="519.66" cy="475.79" r="1.1"/>
<circle cx="520.75" cy="475.76" r="1.1"/>
<circle cx="521.85" cy="475.47" r="1.1"/>
<circle cx="522.94" cy="476.57" r="1.1"/>
<circle cx="524.04" cy="475.44" r="1.1"/>
<circle cx="525.14" cy="475.29" r="1.1"/>
<circle cx="526.23" cy="475.58" r="1.1"/>
<circle cx="527.33" cy="475.45" r="1.1"/>
<circle cx="528.42" cy="475.43" r="1.1"/>
<circle cx="529.52" cy="475.31" r="1.1"/>
<circle cx="530.62" cy="475.35" r="1.1"/>
<circle cx="531.71" cy="475.33" r="1.1"/>
<circle cx="532.81" cy="475.20" r="1.1"/>
<circle cx="533.90" cy="475.53" r="1.1"/>
<circle cx="535.00" cy="475.51" r="1.1"/>
<circle cx="536.10" cy="475.48" r="1.1"/>
<circle cx="537.19" cy="475.48" r="1.1"/>
<circle cx="538.29" cy="475.50" r="1.1"/>
<circle cx="539.38" cy="475.15" r="1.1"/>
<circle cx="540.48" cy="475.25" r="1.1"/>
<circle cx="541.57" cy="475.62" r="1.1"/>
<circle cx="542.67" cy="475.50" r="1.1"/>
<circle cx="543.77" cy="475.64" r="1.1"/>
<circle cx="544.86" cy="476.39" r="1.1"/>
<circle cx="545.96" cy="476.72" r="1.1"/>
<circle cx="547.05" cy="476.36" r="1.1"/>
<circle cx="548.15" cy="476.58" r="1.1"/>
<circle cx="549.25" cy="477.07" r="1.1"/>
<circle cx="550.34" cy="477.48" r="1.1"/>
<circle cx="551.44" cy="477.30" r="1.1"/>
<circle cx="552.53" cy="477.54" r="1.1"/>
<circle cx="553.63" cy="476.75" r="1.1"/>
<circle cx="554.73" cy="476.43" r="1.1"/>
<circle cx="555.82" cy="477.36" r="1.1"/>
<circle cx="556.92" cy="478.44" r="1.1"/>
<circle cx="558.01" cy="478.88" r="1.1"/>
<circle cx="559.11" cy="479.13" r="1.1"/>
<circle cx="560.21" cy="479.37" r="1.1"/>
<circle cx="561.30" cy="479.76" r="1.1"/>
<circle cx="562.40" cy="481.16" r="1.1"/>
<circle cx="563.49" cy="480.86" r="1.1"/>
<circle cx="564.59" cy="480.91" r="1.1"/>
<circle cx="565.68" cy="480.99" r="1.1"/>
<circle cx="566.78" cy="481.97" r="1.1"/>
<circle cx="567.88" cy="482.62" r="1.1"/>
<circle cx="568.97" cy="483.10" r="1.1"/>
<circle cx="570.07" cy="484.42" r="1.1"/>
<circle cx="571.16" cy="484.64" r="1.1"/>
<circle cx="572.26" cy="485.30" r="1.1"/>
<circle cx="573.36" cy="485.93" r="1.1"/>
<circle cx="574.45" cy="485.65" r="1.1"/>
<circle cx="575.55" cy="486.17" r="1.1"/>
<circle cx="576.64" cy="488.25" r="1.1"/>
<circle cx="577.74" cy="488.65" r="1.1"/>
<circle cx="578.84" cy="489.27" r="1.1"/>
<circle cx="579.93" cy="488.39" r="1.1"/>
<circle cx="581.03" cy="488.17" r="1.1"/>
<circle cx="582.12" cy="488.99" r="1.1"/>
<circle cx="583.22" cy="487.87" r="1.1"/>
<circle cx="584.32" cy="487.76" r="1.1"/>
<circle cx="585.41" cy="488.32" r="1.1"/>
<circle cx="586.51" cy="487.93" r="1.1"/>
<circle cx="587.60" cy="489.03" r="1.1"/>
<circle cx="588.70" cy="488.41" r="1.1"/>
<circle cx="589.79" cy="489.18" r="1.1"/>
<circle cx="590.89" cy="488.53" r="1.1"/>
<circle cx="591.99" cy="488.41" r="1.1"/>
<circle cx="593.08" cy="488.31" r="1.1"/>
<circle cx="594.18" cy="487.82" r="1.1"/>
<circle cx="595.27" cy="487.60" r="1.1"/>
<circle cx="596.37" cy="487.63" r="1.1"/>
<circle cx="597.47" cy="486.07" r="1.1"/>
<circle cx="598.56" cy="486.33" r="1.1"/>
<circle cx="599.66" cy="485.53" r="1.1"/>
<circle cx="600.75" cy="484.12" r="1.1"/>
<circle cx="601.85" cy="484.99" r="1.1"/>
<circle cx="602.95" cy="484.60" r="1.1"/>
<circle cx="604.04" cy="484.84" r="1.1"/>
<circle cx="605.14" cy="484.88" r="1.1"/>
<circle cx="606.23" cy="487.42" r="1.1"/>
<circle cx="607.33" cy="487.80" r="1.1"/>
<circle cx="608.42" cy="486.59" r="1.1"/>
<circle cx="609.52" cy="487.96" r="1.1"/>
<circle cx="610.62" cy="486.92" r="1.1"/>
<circle cx="611.71" cy="487.30" r="1.1"/>
<circle cx="612.81" cy="487.07" r="1.1"/>
<circle cx="613.90" cy="486.95" r="1.1"/>
<circle cx="615.00" cy="487.64" r="1.1"/>
<circle cx="616.10" cy="487.31" r="1.1"/>
<circle cx="617.19" cy="488.61" r="1.1"/>
<circle cx="618.29" cy="487.38" r="1.1"/>
<circle cx="619.38" cy="487.70" r="1.1"/>
<circle cx="620.48" cy="487.03" r="1.1"/>
<circle cx="621.58" cy="487.76" r="1.1"/>
<circle cx="622.67" cy="486.43" r="1.1"/>
<circle cx="623.77" cy="485.85" r="1.1"/>
<circle cx="624.86" cy="487.65" r="1.1"/>
<circle cx="625.96" cy="487.86" r="1.1"/>
<circle cx="627.06" cy="488.09" r="1.1"/>
<circle cx="628.15" cy="488.33" r="1.1"/>
<circle cx="629.25" cy="489.22" r="1.1"/>
<circle cx="630.34" cy="488.88" r="1.1"/>
<circle cx="631.44" cy="488.31" r="1.1"/>
<circle cx="632.53" cy="487.20" r="1.1"/>
</g>
<circle cx="296.82" cy="441.55" r="2.9" fill="#f26c6c"/>
<circle cx="296.02" cy="440.65" r="1.0" fill="#ffc8c8"/>
<circle cx="326.05" cy="439.51" r="2.9" fill="#f26c6c"/>
<circle cx="325.25" cy="438.61" r="1.0" fill="#ffc8c8"/>
<circle cx="355.27" cy="443.88" r="2.9" fill="#f26c6c"/>
<circle cx="354.47" cy="442.98" r="1.0" fill="#ffc8c8"/>
<circle cx="384.50" cy="441.26" r="2.9" fill="#f26c6c"/>
<circle cx="383.70" cy="440.36" r="1.0" fill="#ffc8c8"/>
<circle cx="413.72" cy="440.96" r="2.9" fill="#f26c6c"/>
<circle cx="412.92" cy="440.06" r="1.0" fill="#ffc8c8"/>
<circle cx="442.94" cy="444.90" r="2.9" fill="#f26c6c"/>
<circle cx="442.14" cy="444.00" r="1.0" fill="#ffc8c8"/>
<circle cx="472.17" cy="440.53" r="2.9" fill="#f26c6c"/>
<circle cx="471.37" cy="439.63" r="1.0" fill="#ffc8c8"/>
<circle cx="501.39" cy="442.86" r="2.9" fill="#f26c6c"/>
<circle cx="500.59" cy="441.96" r="1.0" fill="#ffc8c8"/>
<circle cx="530.62" cy="440.38" r="2.9" fill="#f26c6c"/>
<circle cx="529.82" cy="439.48" r="1.0" fill="#ffc8c8"/>
<circle cx="559.84" cy="441.55" r="2.9" fill="#f26c6c"/>
<circle cx="559.04" cy="440.65" r="1.0" fill="#ffc8c8"/>
<circle cx="589.06" cy="442.28" r="2.9" fill="#f26c6c"/>
<circle cx="588.26" cy="441.38" r="1.0" fill="#ffc8c8"/>
<circle cx="618.29" cy="442.86" r="2.9" fill="#f26c6c"/>
<circle cx="617.49" cy="441.96" r="1.0" fill="#ffc8c8"/>
<polyline points="310.7,498.0 310.7,505.4 288,505.4" fill="none" stroke="#5a78f5" stroke-width="1.0"/>
<polygon points="281.3,505.4 292.0,502.9 292.0,507.9" fill="#5a78f5"/>
<polyline points="591.3,431.8 591.3,424.4 612,424.4" fill="none" stroke="#f56464" stroke-width="1.0"/>
<polygon points="622.0,424.4 611.0,421.8 611.0,427.0" fill="#f56464"/>
<rect x="267.60" y="384.30" width="365.30" height="146.30" fill="none" stroke="#4a4a4a" stroke-width="1.2"/>
<line x1="267.60" y1="384.30" x2="265.00" y2="384.30" stroke="#4a4a4a" stroke-width="1.0" />
<text x="263.40" y="387.90" font-size="10" text-anchor="end" fill="#1a1a1a" >0.0</text>
<line x1="267.60" y1="405.20" x2="265.00" y2="405.20" stroke="#4a4a4a" stroke-width="1.0" />
<text x="263.40" y="408.80" font-size="10" text-anchor="end" fill="#1a1a1a" >-0.2</text>
<line x1="267.60" y1="426.10" x2="265.00" y2="426.10" stroke="#4a4a4a" stroke-width="1.0" />
<text x="263.40" y="429.70" font-size="10" text-anchor="end" fill="#1a1a1a" >-0.4</text>
<line x1="267.60" y1="447.00" x2="265.00" y2="447.00" stroke="#4a4a4a" stroke-width="1.0" />
<text x="263.40" y="450.60" font-size="10" text-anchor="end" fill="#1a1a1a" >-0.6</text>
<line x1="267.60" y1="467.90" x2="265.00" y2="467.90" stroke="#4a4a4a" stroke-width="1.0" />
<text x="263.40" y="471.50" font-size="10" text-anchor="end" fill="#1a1a1a" >-0.8</text>
<line x1="267.60" y1="488.80" x2="265.00" y2="488.80" stroke="#4a4a4a" stroke-width="1.0" />
<text x="263.40" y="492.40" font-size="10" text-anchor="end" fill="#1a1a1a" >-1.0</text>
<line x1="267.60" y1="509.70" x2="265.00" y2="509.70" stroke="#4a4a4a" stroke-width="1.0" />
<text x="263.40" y="513.30" font-size="10" text-anchor="end" fill="#1a1a1a" >-1.2</text>
<line x1="267.60" y1="530.60" x2="265.00" y2="530.60" stroke="#4a4a4a" stroke-width="1.0" />
<text x="263.40" y="534.20" font-size="10" text-anchor="end" fill="#1a1a1a" >-1.4</text>
<line x1="267.60" y1="394.75" x2="266.00" y2="394.75" stroke="#4a4a4a" stroke-width="1.0" />
<line x1="267.60" y1="415.65" x2="266.00" y2="415.65" stroke="#4a4a4a" stroke-width="1.0" />
<line x1="267.60" y1="436.55" x2="266.00" y2="436.55" stroke="#4a4a4a" stroke-width="1.0" />
<line x1="267.60" y1="457.45" x2="266.00" y2="457.45" stroke="#4a4a4a" stroke-width="1.0" />
<line x1="267.60" y1="478.35" x2="266.00" y2="478.35" stroke="#4a4a4a" stroke-width="1.0" />
<line x1="267.60" y1="499.25" x2="266.00" y2="499.25" stroke="#4a4a4a" stroke-width="1.0" />
<line x1="267.60" y1="520.15" x2="266.00" y2="520.15" stroke="#4a4a4a" stroke-width="1.0" />
<line x1="632.90" y1="530.60" x2="635.50" y2="530.60" stroke="#4a4a4a" stroke-width="1.0" />
<text x="637.10" y="534.20" font-size="10" text-anchor="start" fill="#1a1a1a" >0</text>
<line x1="632.90" y1="501.45" x2="635.50" y2="501.45" stroke="#4a4a4a" stroke-width="1.0" />
<text x="637.10" y="505.05" font-size="10" text-anchor="start" fill="#1a1a1a" >20</text>
<line x1="632.90" y1="472.30" x2="635.50" y2="472.30" stroke="#4a4a4a" stroke-width="1.0" />
<text x="637.10" y="475.90" font-size="10" text-anchor="start" fill="#1a1a1a" >40</text>
<line x1="632.90" y1="443.15" x2="635.50" y2="443.15" stroke="#4a4a4a" stroke-width="1.0" />
<text x="637.10" y="446.75" font-size="10" text-anchor="start" fill="#1a1a1a" >60</text>
<line x1="632.90" y1="414.00" x2="635.50" y2="414.00" stroke="#4a4a4a" stroke-width="1.0" />
<text x="637.10" y="417.60" font-size="10" text-anchor="start" fill="#1a1a1a" >80</text>
<line x1="632.90" y1="384.85" x2="635.50" y2="384.85" stroke="#4a4a4a" stroke-width="1.0" />
<text x="637.10" y="388.45" font-size="10" text-anchor="start" fill="#1a1a1a" >100</text>
<line x1="632.90" y1="516.02" x2="634.50" y2="516.02" stroke="#4a4a4a" stroke-width="1.0" />
<line x1="632.90" y1="486.88" x2="634.50" y2="486.88" stroke="#4a4a4a" stroke-width="1.0" />
<line x1="632.90" y1="457.73" x2="634.50" y2="457.73" stroke="#4a4a4a" stroke-width="1.0" />
<line x1="632.90" y1="428.58" x2="634.50" y2="428.58" stroke="#4a4a4a" stroke-width="1.0" />
<line x1="632.90" y1="399.43" x2="634.50" y2="399.43" stroke="#4a4a4a" stroke-width="1.0" />
<line x1="267.60" y1="530.60" x2="267.60" y2="533.20" stroke="#4a4a4a" stroke-width="1.0" />
<text x="267.60" y="543.20" font-size="10" text-anchor="middle" fill="#1a1a1a" >0</text>
<line x1="340.66" y1="530.60" x2="340.66" y2="533.20" stroke="#4a4a4a" stroke-width="1.0" />
<text x="340.66" y="543.20" font-size="10" text-anchor="middle" fill="#1a1a1a" >10</text>
<line x1="413.72" y1="530.60" x2="413.72" y2="533.20" stroke="#4a4a4a" stroke-width="1.0" />
<text x="413.72" y="543.20" font-size="10" text-anchor="middle" fill="#1a1a1a" >20</text>
<line x1="486.78" y1="530.60" x2="486.78" y2="533.20" stroke="#4a4a4a" stroke-width="1.0" />
<text x="486.78" y="543.20" font-size="10" text-anchor="middle" fill="#1a1a1a" >30</text>
<line x1="559.84" y1="530.60" x2="559.84" y2="533.20" stroke="#4a4a4a" stroke-width="1.0" />
<text x="559.84" y="543.20" font-size="10" text-anchor="middle" fill="#1a1a1a" >40</text>
<line x1="632.90" y1="530.60" x2="632.90" y2="533.20" stroke="#4a4a4a" stroke-width="1.0" />
<text x="632.90" y="543.20" font-size="10" text-anchor="middle" fill="#1a1a1a" >50</text>
<line x1="304.13" y1="530.60" x2="304.13" y2="532.20" stroke="#4a4a4a" stroke-width="1.0" />
<line x1="377.19" y1="530.60" x2="377.19" y2="532.20" stroke="#4a4a4a" stroke-width="1.0" />
<line x1="450.25" y1="530.60" x2="450.25" y2="532.20" stroke="#4a4a4a" stroke-width="1.0" />
<line x1="523.31" y1="530.60" x2="523.31" y2="532.20" stroke="#4a4a4a" stroke-width="1.0" />
<line x1="596.37" y1="530.60" x2="596.37" y2="532.20" stroke="#4a4a4a" stroke-width="1.0" />
<text x="450.30" y="554.00" font-size="11.5" text-anchor="middle" fill="#1a1a1a" >Time (h)</text>
<text x="0" y="0" font-size="11.8" text-anchor="middle" fill="#1a1a1a" transform="translate(239.80,457.00) rotate(-90)">Total current (A)</text>
<text x="0" y="0" font-size="11.5" text-anchor="middle" fill="#1a1a1a" transform="translate(659.8,455.5) rotate(-90)">FE<tspan font-size="8" dy="2.5" dx="2">C</tspan><tspan font-size="6" dy="1">2</tspan><tspan font-size="8" dy="-1">H</tspan><tspan font-size="6" dy="1">4</tspan><tspan dy="-3.5" dx="2">(%)</tspan></text>
<text x="278.50" y="396.60" font-size="8.8" text-anchor="start" fill="#1a1a1a" >E<tspan font-size="5.8" dy="2.5">cell</tspan><tspan dy="-2.5"> = 3.6 V</tspan></text>
<text x="621.90" y="396.90" font-size="8.8" text-anchor="end" fill="#1a1a1a" >MEA-based electrolyser</text>
</svg></body></html>
